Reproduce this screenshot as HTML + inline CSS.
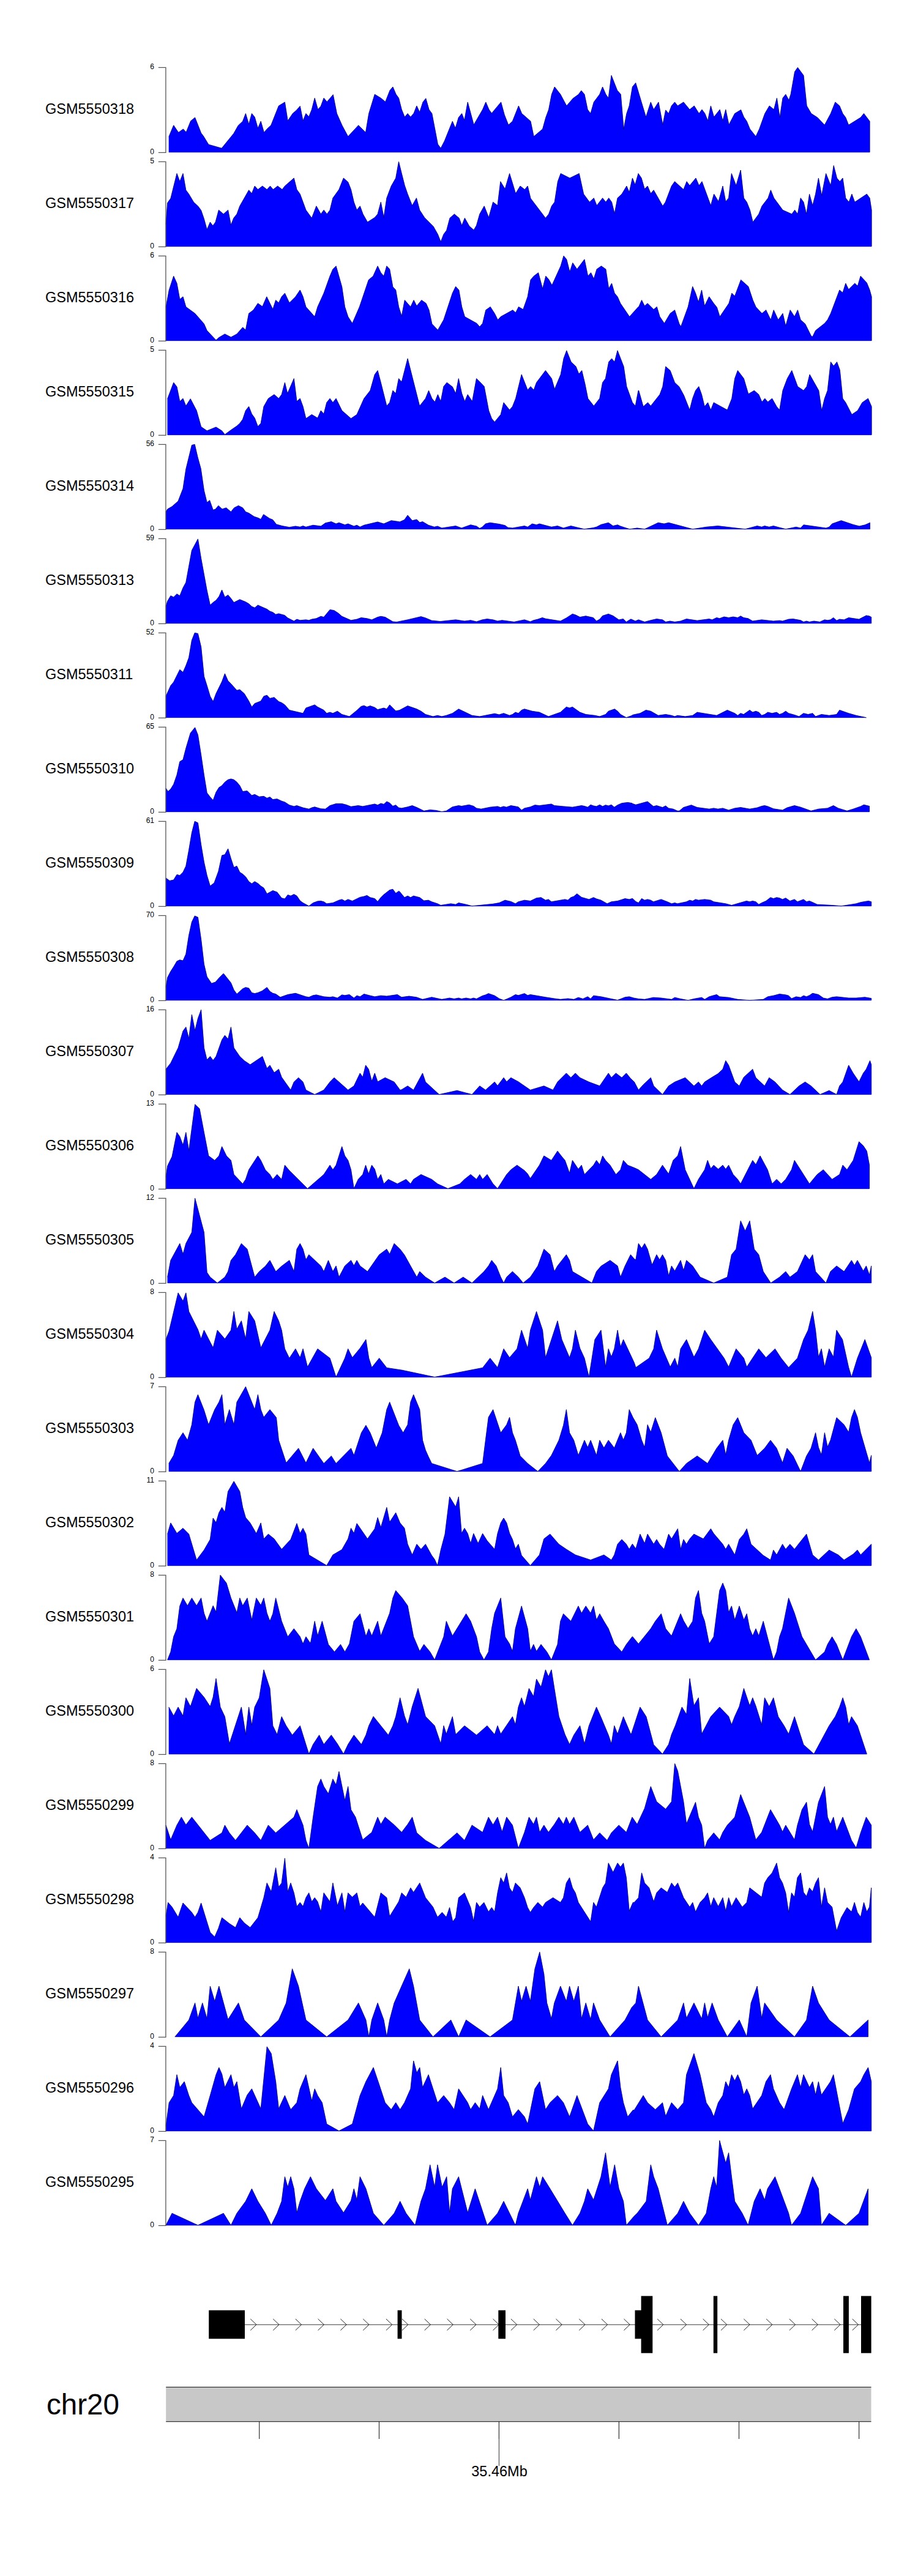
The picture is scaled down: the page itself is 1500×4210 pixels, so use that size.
<!DOCTYPE html><html><head><meta charset="utf-8"><title>tracks</title><style>html,body{margin:0;padding:0;background:#fff}svg{display:block}text{font-family:"Liberation Sans",Arial,Helvetica,sans-serif;fill:#000}</style></head><body>
<svg width="1500" height="4210" viewBox="0 0 1500 4210">
<rect width="1500" height="4210" fill="#fff"/>
<path d="M275.9,248.9 L275.9,223.5 L283.7,204.8 L291.6,216.5 L299.4,210.9 L304.2,216.1 L311.6,197.8 L318.6,192.1 L328.6,217.4 L332.5,222.6 L340.8,236.2 L362.2,242.3 L381.8,218.3 L389.2,205.2 L396.6,198.2 L401.4,185.6 L406.6,203.0 L411.4,185.6 L416.2,191.3 L421.4,209.6 L426.2,198.2 L431.4,216.5 L437.1,210.0 L442.8,204.8 L455.4,173.0 L465.4,166.9 L470.2,197.4 L478.5,185.2 L484.2,180.4 L490.3,173.4 L495.1,197.4 L499.9,185.6 L504.7,190.8 L509.4,179.1 L514.2,160.3 L519.5,179.1 L524.3,173.4 L529.1,160.3 L534.3,166.4 L544.3,154.7 L550.4,185.6 L559.1,205.2 L568.7,223.1 L585.7,204.8 L597.5,216.5 L602.7,185.6 L612.3,154.2 L622.3,160.3 L629.7,166.4 L637.1,147.7 L641.9,142.0 L647.1,154.2 L651.5,160.3 L656.3,179.1 L661.3,191.3 L666.1,185.6 L670.9,191.3 L676.1,185.2 L680.9,173.0 L685.7,183.4 L691.0,166.9 L695.8,160.8 L701.0,179.1 L705.8,185.6 L715.4,235.7 L720.2,242.3 L726.3,230.5 L739.3,198.2 L744.1,209.6 L749.3,192.1 L754.6,185.6 L758.9,196.5 L764.2,166.9 L774.2,203.9 L788.6,179.1 L793.8,166.9 L799.0,179.1 L803.4,185.2 L818.6,166.9 L824.3,187.8 L830.8,204.3 L837.4,198.2 L847.4,173.0 L852.6,185.6 L857.8,190.0 L867.0,198.2 L872.2,223.1 L886.6,210.9 L891.8,192.1 L896.6,179.1 L901.4,154.2 L906.2,142.0 L915.8,154.2 L925.8,173.0 L936.3,160.8 L945.4,154.2 L949.8,148.1 L955.0,154.2 L960.2,179.1 L965.0,185.6 L970.3,166.9 L979.8,154.2 L984.6,142.0 L989.9,154.2 L994.2,160.3 L999.0,123.3 L1008.6,147.7 L1014.3,154.2 L1019.1,210.9 L1023.9,185.6 L1028.2,173.0 L1033.4,142.0 L1038.7,135.5 L1044.3,154.2 L1048.1,166.9 L1055.5,191.3 L1063.3,166.9 L1068.1,179.1 L1076.0,166.9 L1082.9,203.9 L1087.7,179.9 L1092.5,185.6 L1097.3,173.0 L1102.5,166.9 L1107.3,173.0 L1116.9,166.9 L1126.9,179.1 L1134.3,173.0 L1142.2,185.6 L1147.0,179.1 L1151.8,185.6 L1156.6,197.4 L1161.4,173.0 L1166.6,191.3 L1176.2,179.1 L1181.0,197.4 L1185.8,179.1 L1191.0,203.9 L1200.6,185.6 L1210.6,179.5 L1215.4,191.3 L1220.2,198.2 L1225.4,210.9 L1235.0,223.1 L1240.7,210.9 L1249.8,185.6 L1257.2,173.0 L1264.6,179.1 L1269.4,160.3 L1274.2,192.1 L1279.0,160.3 L1283.8,154.2 L1289.0,163.8 L1292.1,154.2 L1298.6,117.2 L1303.4,110.3 L1313.0,123.3 L1318.2,173.0 L1325.6,185.6 L1335.7,192.1 L1347.4,204.3 L1357.4,185.6 L1364.8,166.9 L1371.8,173.0 L1377.0,185.6 L1381.8,192.1 L1386.6,204.3 L1406.2,192.1 L1411.5,185.6 L1421.1,198.2 L1421.1,248.8 L1421.1,248.9 Z" fill="#0000ff" stroke="#0000ff" stroke-width="0.4" stroke-linejoin="miter"/>
<path d="M275.9,223.5 L283.7,204.8 L291.6,216.5 L299.4,210.9 L304.2,216.1 L311.6,197.8 L318.6,192.1 L328.6,217.4 L332.5,222.6 L340.8,236.2 L362.2,242.3 L381.8,218.3 L389.2,205.2 L396.6,198.2 L401.4,185.6 L406.6,203.0 L411.4,185.6 L416.2,191.3 L421.4,209.6 L426.2,198.2 L431.4,216.5 L437.1,210.0 L442.8,204.8 L455.4,173.0 L465.4,166.9 L470.2,197.4 L478.5,185.2 L484.2,180.4 L490.3,173.4 L495.1,197.4 L499.9,185.6 L504.7,190.8 L509.4,179.1 L514.2,160.3 L519.5,179.1 L524.3,173.4 L529.1,160.3 L534.3,166.4 L544.3,154.7 L550.4,185.6 L559.1,205.2 L568.7,223.1 L585.7,204.8 L597.5,216.5 L602.7,185.6 L612.3,154.2 L622.3,160.3 L629.7,166.4 L637.1,147.7 L641.9,142.0 L647.1,154.2 L651.5,160.3 L656.3,179.1 L661.3,191.3 L666.1,185.6 L670.9,191.3 L676.1,185.2 L680.9,173.0 L685.7,183.4 L691.0,166.9 L695.8,160.8 L701.0,179.1 L705.8,185.6 L715.4,235.7 L720.2,242.3 L726.3,230.5 L739.3,198.2 L744.1,209.6 L749.3,192.1 L754.6,185.6 L758.9,196.5 L764.2,166.9 L774.2,203.9 L788.6,179.1 L793.8,166.9 L799.0,179.1 L803.4,185.2 L818.6,166.9 L824.3,187.8 L830.8,204.3 L837.4,198.2 L847.4,173.0 L852.6,185.6 L857.8,190.0 L867.0,198.2 L872.2,223.1 L886.6,210.9 L891.8,192.1 L896.6,179.1 L901.4,154.2 L906.2,142.0 L915.8,154.2 L925.8,173.0 L936.3,160.8 L945.4,154.2 L949.8,148.1 L955.0,154.2 L960.2,179.1 L965.0,185.6 L970.3,166.9 L979.8,154.2 L984.6,142.0 L989.9,154.2 L994.2,160.3 L999.0,123.3 L1008.6,147.7 L1014.3,154.2 L1019.1,210.9 L1023.9,185.6 L1028.2,173.0 L1033.4,142.0 L1038.7,135.5 L1044.3,154.2 L1048.1,166.9 L1055.5,191.3 L1063.3,166.9 L1068.1,179.1 L1076.0,166.9 L1082.9,203.9 L1087.7,179.9 L1092.5,185.6 L1097.3,173.0 L1102.5,166.9 L1107.3,173.0 L1116.9,166.9 L1126.9,179.1 L1134.3,173.0 L1142.2,185.6 L1147.0,179.1 L1151.8,185.6 L1156.6,197.4 L1161.4,173.0 L1166.6,191.3 L1176.2,179.1 L1181.0,197.4 L1185.8,179.1 L1191.0,203.9 L1200.6,185.6 L1210.6,179.5 L1215.4,191.3 L1220.2,198.2 L1225.4,210.9 L1235.0,223.1 L1240.7,210.9 L1249.8,185.6 L1257.2,173.0 L1264.6,179.1 L1269.4,160.3 L1274.2,192.1 L1279.0,160.3 L1283.8,154.2 L1289.0,163.8 L1292.1,154.2 L1298.6,117.2 L1303.4,110.3 L1313.0,123.3 L1318.2,173.0 L1325.6,185.6 L1335.7,192.1 L1347.4,204.3 L1357.4,185.6 L1364.8,166.9 L1371.8,173.0 L1377.0,185.6 L1381.8,192.1 L1386.6,204.3 L1406.2,192.1 L1411.5,185.6 L1421.1,198.2 L1421.1,248.8" fill="none" stroke="#000058" stroke-width="0.7" stroke-linejoin="miter"/>
<path d="M258.8,110.3 H270.9 V249.4 H258.8" fill="none" stroke="#555" stroke-width="1.3"/>
<text x="252" y="113.0" font-size="12" text-anchor="end">6</text>
<text x="252" y="252.2" font-size="12" text-anchor="end">0</text>
<text x="74" y="186.0" font-size="23.5">GSM5550318</text>
<path d="M271.1,402.9 L271.1,366.4 L273.7,331.6 L278.9,324.2 L289.0,283.6 L293.8,296.7 L299.0,283.6 L303.8,310.7 L308.6,317.2 L316.4,330.3 L323.8,337.2 L328.6,343.8 L333.4,357.7 L338.2,375.2 L343.4,363.0 L347.8,369.1 L352.1,363.0 L357.4,343.3 L365.2,349.9 L372.6,343.3 L377.4,367.7 L381.8,356.4 L387.0,349.9 L391.8,336.8 L406.6,310.7 L411.4,316.3 L416.2,304.1 L421.4,309.8 L428.8,304.1 L436.2,309.8 L441.5,304.1 L446.3,309.8 L453.7,304.1 L461.1,309.8 L465.4,304.1 L480.3,291.1 L485.0,309.8 L490.3,317.2 L499.9,343.3 L509.4,356.4 L516.9,336.8 L524.3,349.9 L529.1,343.3 L534.3,349.9 L539.1,343.3 L543.9,323.7 L553.9,309.8 L561.3,291.1 L568.7,297.6 L573.5,309.8 L578.3,330.3 L583.1,343.3 L588.3,336.8 L593.1,349.9 L600.5,363.0 L612.3,355.5 L617.1,349.9 L622.3,330.3 L627.1,355.5 L631.9,323.7 L639.3,304.1 L646.7,291.1 L651.5,264.3 L656.3,283.6 L661.3,303.3 L666.1,317.2 L673.5,335.9 L680.5,323.7 L685.7,343.3 L693.6,355.5 L708.0,369.9 L715.4,383.0 L720.2,395.2 L724.9,383.0 L729.7,376.5 L735.0,356.4 L742.4,349.9 L750.2,356.4 L754.6,368.6 L759.4,356.4 L766.8,369.5 L774.2,376.0 L778.5,368.6 L783.8,349.9 L791.2,336.8 L798.6,355.5 L805.6,330.3 L813.0,335.9 L817.8,296.7 L825.2,308.9 L832.6,283.6 L842.6,316.3 L850.0,304.1 L857.4,309.8 L862.2,304.1 L867.0,324.2 L891.4,356.4 L896.6,349.9 L901.4,336.8 L906.2,330.3 L911.4,296.7 L916.2,283.6 L931.0,291.1 L946.3,283.6 L953.7,317.2 L963.3,330.3 L970.3,323.7 L975.1,335.9 L984.6,323.7 L989.9,330.3 L994.7,323.7 L999.5,330.3 L1004.2,349.0 L1009.0,323.7 L1016.0,317.2 L1023.9,304.1 L1028.2,314.2 L1033.4,291.1 L1037.8,301.9 L1043.0,283.6 L1048.1,291.1 L1053.3,308.9 L1058.1,304.1 L1063.3,316.3 L1068.1,310.7 L1082.9,336.8 L1087.3,330.3 L1097.3,304.1 L1102.5,296.7 L1116.9,309.8 L1122.1,296.7 L1126.9,303.3 L1137.0,291.1 L1142.2,303.3 L1147.0,296.7 L1161.4,335.9 L1166.6,317.2 L1174.0,329.4 L1181.0,304.1 L1185.8,329.4 L1190.6,323.7 L1195.3,283.6 L1202.8,303.3 L1210.2,278.0 L1215.4,323.7 L1220.2,330.3 L1225.4,343.3 L1230.2,363.0 L1239.8,349.9 L1245.0,336.8 L1255.0,323.7 L1259.4,310.7 L1264.6,323.7 L1279.0,343.3 L1293.8,349.9 L1298.6,343.3 L1303.4,349.9 L1308.2,323.7 L1313.0,330.3 L1317.8,349.9 L1322.6,317.2 L1327.8,335.9 L1332.6,317.2 L1337.4,291.1 L1342.6,319.4 L1349.6,283.6 L1357.4,303.3 L1362.2,270.6 L1367.5,291.1 L1372.3,296.7 L1377.0,291.1 L1381.8,323.7 L1387.1,330.3 L1391.9,317.2 L1396.7,330.3 L1416.3,317.2 L1421.1,323.7 L1424.1,343.3 L1424.1,402.6 L1424.1,402.9 Z" fill="#0000ff" stroke="#0000ff" stroke-width="0.4" stroke-linejoin="miter"/>
<path d="M271.1,366.4 L273.7,331.6 L278.9,324.2 L289.0,283.6 L293.8,296.7 L299.0,283.6 L303.8,310.7 L308.6,317.2 L316.4,330.3 L323.8,337.2 L328.6,343.8 L333.4,357.7 L338.2,375.2 L343.4,363.0 L347.8,369.1 L352.1,363.0 L357.4,343.3 L365.2,349.9 L372.6,343.3 L377.4,367.7 L381.8,356.4 L387.0,349.9 L391.8,336.8 L406.6,310.7 L411.4,316.3 L416.2,304.1 L421.4,309.8 L428.8,304.1 L436.2,309.8 L441.5,304.1 L446.3,309.8 L453.7,304.1 L461.1,309.8 L465.4,304.1 L480.3,291.1 L485.0,309.8 L490.3,317.2 L499.9,343.3 L509.4,356.4 L516.9,336.8 L524.3,349.9 L529.1,343.3 L534.3,349.9 L539.1,343.3 L543.9,323.7 L553.9,309.8 L561.3,291.1 L568.7,297.6 L573.5,309.8 L578.3,330.3 L583.1,343.3 L588.3,336.8 L593.1,349.9 L600.5,363.0 L612.3,355.5 L617.1,349.9 L622.3,330.3 L627.1,355.5 L631.9,323.7 L639.3,304.1 L646.7,291.1 L651.5,264.3 L656.3,283.6 L661.3,303.3 L666.1,317.2 L673.5,335.9 L680.5,323.7 L685.7,343.3 L693.6,355.5 L708.0,369.9 L715.4,383.0 L720.2,395.2 L724.9,383.0 L729.7,376.5 L735.0,356.4 L742.4,349.9 L750.2,356.4 L754.6,368.6 L759.4,356.4 L766.8,369.5 L774.2,376.0 L778.5,368.6 L783.8,349.9 L791.2,336.8 L798.6,355.5 L805.6,330.3 L813.0,335.9 L817.8,296.7 L825.2,308.9 L832.6,283.6 L842.6,316.3 L850.0,304.1 L857.4,309.8 L862.2,304.1 L867.0,324.2 L891.4,356.4 L896.6,349.9 L901.4,336.8 L906.2,330.3 L911.4,296.7 L916.2,283.6 L931.0,291.1 L946.3,283.6 L953.7,317.2 L963.3,330.3 L970.3,323.7 L975.1,335.9 L984.6,323.7 L989.9,330.3 L994.7,323.7 L999.5,330.3 L1004.2,349.0 L1009.0,323.7 L1016.0,317.2 L1023.9,304.1 L1028.2,314.2 L1033.4,291.1 L1037.8,301.9 L1043.0,283.6 L1048.1,291.1 L1053.3,308.9 L1058.1,304.1 L1063.3,316.3 L1068.1,310.7 L1082.9,336.8 L1087.3,330.3 L1097.3,304.1 L1102.5,296.7 L1116.9,309.8 L1122.1,296.7 L1126.9,303.3 L1137.0,291.1 L1142.2,303.3 L1147.0,296.7 L1161.4,335.9 L1166.6,317.2 L1174.0,329.4 L1181.0,304.1 L1185.8,329.4 L1190.6,323.7 L1195.3,283.6 L1202.8,303.3 L1210.2,278.0 L1215.4,323.7 L1220.2,330.3 L1225.4,343.3 L1230.2,363.0 L1239.8,349.9 L1245.0,336.8 L1255.0,323.7 L1259.4,310.7 L1264.6,323.7 L1279.0,343.3 L1293.8,349.9 L1298.6,343.3 L1303.4,349.9 L1308.2,323.7 L1313.0,330.3 L1317.8,349.9 L1322.6,317.2 L1327.8,335.9 L1332.6,317.2 L1337.4,291.1 L1342.6,319.4 L1349.6,283.6 L1357.4,303.3 L1362.2,270.6 L1367.5,291.1 L1372.3,296.7 L1377.0,291.1 L1381.8,323.7 L1387.1,330.3 L1391.9,317.2 L1396.7,330.3 L1416.3,317.2 L1421.1,323.7 L1424.1,343.3 L1424.1,402.6" fill="none" stroke="#000058" stroke-width="0.7" stroke-linejoin="miter"/>
<path d="M258.8,264.3 H270.9 V403.4 H258.8" fill="none" stroke="#555" stroke-width="1.3"/>
<text x="252" y="267.0" font-size="12" text-anchor="end">5</text>
<text x="252" y="406.2" font-size="12" text-anchor="end">0</text>
<text x="74" y="340.0" font-size="23.5">GSM5550317</text>
<path d="M271.1,556.9 L271.1,502.3 L276.3,474.0 L283.7,451.3 L289.0,463.1 L293.8,489.3 L299.0,484.9 L303.8,501.5 L318.6,512.3 L333.4,529.3 L338.2,540.2 L353.0,555.9 L357.8,551.6 L367.4,545.9 L377.4,551.1 L387.0,545.9 L396.6,535.0 L401.4,539.4 L406.6,512.3 L414.0,506.7 L421.4,495.8 L428.8,501.0 L435.8,484.9 L445.8,505.4 L450.6,490.6 L455.4,494.9 L460.2,484.9 L465.4,479.2 L472.8,494.9 L482.9,484.9 L490.3,474.0 L495.1,484.9 L499.9,501.5 L514.2,517.6 L519.0,501.5 L529.1,479.2 L539.1,451.3 L543.9,440.0 L549.1,434.8 L558.7,468.8 L563.5,501.5 L568.7,517.6 L575.7,528.5 L587.4,501.5 L602.3,457.4 L609.7,451.3 L617.1,434.8 L622.3,445.7 L627.1,451.3 L631.9,434.8 L636.7,440.0 L641.9,468.8 L646.7,474.0 L651.5,501.5 L656.3,516.7 L661.3,490.6 L670.9,501.5 L676.1,490.6 L680.9,500.1 L688.8,490.6 L696.2,495.8 L701.0,506.7 L705.8,529.3 L715.4,539.4 L724.9,522.8 L739.3,479.2 L744.6,468.3 L749.8,474.0 L754.6,501.5 L759.4,517.6 L779.0,528.5 L783.8,534.1 L788.6,528.5 L793.8,506.7 L801.2,501.5 L808.2,512.3 L813.4,522.8 L818.2,517.6 L837.8,506.7 L842.6,511.0 L847.4,501.5 L854.8,505.8 L862.2,484.9 L867.0,457.4 L872.2,451.3 L879.6,445.7 L886.6,471.8 L891.8,451.3 L896.6,456.6 L901.9,466.2 L916.2,434.8 L921.0,418.3 L925.8,423.9 L931.0,444.4 L935.8,429.6 L942.8,440.0 L955.0,423.9 L960.7,451.3 L965.5,445.7 L970.3,455.7 L975.1,440.0 L982.5,434.8 L989.9,440.0 L994.7,471.8 L999.5,463.1 L1004.2,479.2 L1009.0,484.9 L1013.8,495.8 L1028.6,517.6 L1043.0,501.5 L1043.7,501.5 L1048.5,490.6 L1053.3,500.1 L1058.1,495.8 L1068.1,505.8 L1073.3,501.5 L1078.1,517.6 L1085.5,528.5 L1095.1,512.3 L1102.5,506.7 L1109.9,529.3 L1112.6,533.7 L1124.3,501.5 L1131.7,468.3 L1136.5,479.2 L1141.3,493.6 L1146.5,474.0 L1151.3,500.1 L1158.7,484.9 L1166.2,495.8 L1171.4,502.3 L1176.2,517.6 L1191.0,495.8 L1195.8,479.2 L1200.6,484.0 L1210.6,457.4 L1222.8,468.3 L1230.2,490.6 L1235.0,501.5 L1245.0,512.3 L1251.6,506.7 L1259.4,522.8 L1264.2,506.7 L1271.6,522.8 L1279.0,512.3 L1283.8,532.8 L1291.2,506.7 L1298.2,517.6 L1303.4,506.7 L1308.2,522.8 L1315.6,529.3 L1325.6,549.4 L1327.8,550.3 L1332.6,540.2 L1347.4,528.5 L1352.2,522.8 L1357.4,512.3 L1371.8,474.0 L1377.0,478.4 L1381.8,463.1 L1386.6,473.1 L1396.7,463.1 L1401.4,467.5 L1406.2,451.3 L1416.3,462.2 L1421.1,474.0 L1424.1,484.9 L1424.1,556.8 L1424.1,556.9 Z" fill="#0000ff" stroke="#0000ff" stroke-width="0.4" stroke-linejoin="miter"/>
<path d="M271.1,502.3 L276.3,474.0 L283.7,451.3 L289.0,463.1 L293.8,489.3 L299.0,484.9 L303.8,501.5 L318.6,512.3 L333.4,529.3 L338.2,540.2 L353.0,555.9 L357.8,551.6 L367.4,545.9 L377.4,551.1 L387.0,545.9 L396.6,535.0 L401.4,539.4 L406.6,512.3 L414.0,506.7 L421.4,495.8 L428.8,501.0 L435.8,484.9 L445.8,505.4 L450.6,490.6 L455.4,494.9 L460.2,484.9 L465.4,479.2 L472.8,494.9 L482.9,484.9 L490.3,474.0 L495.1,484.9 L499.9,501.5 L514.2,517.6 L519.0,501.5 L529.1,479.2 L539.1,451.3 L543.9,440.0 L549.1,434.8 L558.7,468.8 L563.5,501.5 L568.7,517.6 L575.7,528.5 L587.4,501.5 L602.3,457.4 L609.7,451.3 L617.1,434.8 L622.3,445.7 L627.1,451.3 L631.9,434.8 L636.7,440.0 L641.9,468.8 L646.7,474.0 L651.5,501.5 L656.3,516.7 L661.3,490.6 L670.9,501.5 L676.1,490.6 L680.9,500.1 L688.8,490.6 L696.2,495.8 L701.0,506.7 L705.8,529.3 L715.4,539.4 L724.9,522.8 L739.3,479.2 L744.6,468.3 L749.8,474.0 L754.6,501.5 L759.4,517.6 L779.0,528.5 L783.8,534.1 L788.6,528.5 L793.8,506.7 L801.2,501.5 L808.2,512.3 L813.4,522.8 L818.2,517.6 L837.8,506.7 L842.6,511.0 L847.4,501.5 L854.8,505.8 L862.2,484.9 L867.0,457.4 L872.2,451.3 L879.6,445.7 L886.6,471.8 L891.8,451.3 L896.6,456.6 L901.9,466.2 L916.2,434.8 L921.0,418.3 L925.8,423.9 L931.0,444.4 L935.8,429.6 L942.8,440.0 L955.0,423.9 L960.7,451.3 L965.5,445.7 L970.3,455.7 L975.1,440.0 L982.5,434.8 L989.9,440.0 L994.7,471.8 L999.5,463.1 L1004.2,479.2 L1009.0,484.9 L1013.8,495.8 L1028.6,517.6 L1043.0,501.5 L1043.7,501.5 L1048.5,490.6 L1053.3,500.1 L1058.1,495.8 L1068.1,505.8 L1073.3,501.5 L1078.1,517.6 L1085.5,528.5 L1095.1,512.3 L1102.5,506.7 L1109.9,529.3 L1112.6,533.7 L1124.3,501.5 L1131.7,468.3 L1136.5,479.2 L1141.3,493.6 L1146.5,474.0 L1151.3,500.1 L1158.7,484.9 L1166.2,495.8 L1171.4,502.3 L1176.2,517.6 L1191.0,495.8 L1195.8,479.2 L1200.6,484.0 L1210.6,457.4 L1222.8,468.3 L1230.2,490.6 L1235.0,501.5 L1245.0,512.3 L1251.6,506.7 L1259.4,522.8 L1264.2,506.7 L1271.6,522.8 L1279.0,512.3 L1283.8,532.8 L1291.2,506.7 L1298.2,517.6 L1303.4,506.7 L1308.2,522.8 L1315.6,529.3 L1325.6,549.4 L1327.8,550.3 L1332.6,540.2 L1347.4,528.5 L1352.2,522.8 L1357.4,512.3 L1371.8,474.0 L1377.0,478.4 L1381.8,463.1 L1386.6,473.1 L1396.7,463.1 L1401.4,467.5 L1406.2,451.3 L1416.3,462.2 L1421.1,474.0 L1424.1,484.9 L1424.1,556.8" fill="none" stroke="#000058" stroke-width="0.7" stroke-linejoin="miter"/>
<path d="M258.8,418.3 H270.9 V557.4 H258.8" fill="none" stroke="#555" stroke-width="1.3"/>
<text x="252" y="421.0" font-size="12" text-anchor="end">6</text>
<text x="252" y="560.2" font-size="12" text-anchor="end">0</text>
<text x="74" y="494.0" font-size="23.5">GSM5550316</text>
<path d="M273.7,710.9 L273.7,651.8 L283.7,625.2 L289.0,632.2 L293.8,656.1 L299.0,651.3 L303.8,663.5 L311.2,651.8 L321.2,671.0 L328.6,697.5 L338.2,704.1 L353.0,698.0 L362.6,704.1 L367.4,710.2 L377.4,702.8 L387.0,696.2 L391.8,691.9 L396.6,685.3 L401.4,671.0 L406.6,664.4 L411.4,676.6 L416.2,683.2 L421.4,697.1 L426.2,691.9 L431.0,664.4 L438.4,651.3 L448.0,644.8 L455.4,651.3 L460.2,644.8 L465.4,625.2 L469.8,643.1 L480.3,618.7 L485.0,656.1 L490.3,651.3 L495.1,664.4 L499.9,684.0 L509.4,677.5 L519.0,683.2 L524.3,671.0 L529.1,676.6 L533.8,657.9 L539.1,651.3 L543.9,657.9 L549.1,651.3 L558.7,671.0 L573.5,684.0 L583.1,677.5 L594.8,651.3 L604.9,638.3 L612.3,612.1 L617.1,605.6 L622.3,625.2 L631.9,663.5 L636.7,657.9 L641.9,638.3 L646.7,643.1 L651.5,618.7 L656.3,624.3 L666.1,586.0 L685.7,663.5 L695.3,651.3 L700.5,638.3 L705.8,651.3 L710.6,657.0 L715.4,644.8 L720.2,656.1 L724.9,631.7 L730.2,625.2 L739.3,632.2 L744.6,643.1 L749.3,618.7 L754.6,643.1 L759.4,656.1 L764.2,644.8 L771.6,656.1 L778.5,618.7 L786.4,626.5 L791.2,631.7 L798.6,671.0 L803.4,684.0 L808.2,689.7 L818.2,677.5 L823.0,657.9 L832.6,670.1 L837.4,664.4 L842.6,651.3 L852.2,612.1 L862.2,637.4 L867.0,631.7 L872.2,637.4 L876.6,625.2 L891.4,605.6 L901.4,618.7 L906.2,636.1 L916.2,612.1 L921.0,586.0 L925.8,572.9 L933.2,591.6 L941.1,599.1 L945.9,611.3 L950.7,605.6 L955.9,627.4 L960.7,651.3 L970.3,663.5 L979.8,651.3 L984.6,625.2 L989.4,618.7 L994.7,591.6 L999.5,586.0 L1004.2,591.6 L1009.0,572.9 L1019.1,599.1 L1023.9,631.7 L1033.4,657.9 L1038.2,663.5 L1043.0,638.3 L1043.7,638.3 L1051.1,664.4 L1058.5,657.9 L1063.3,663.5 L1078.1,644.8 L1082.9,631.7 L1087.7,599.1 L1095.1,605.6 L1102.5,625.2 L1109.9,632.2 L1117.4,646.1 L1126.9,670.1 L1131.7,651.3 L1136.5,638.3 L1141.8,631.7 L1146.5,644.8 L1151.3,664.4 L1156.6,657.9 L1161.4,670.1 L1166.2,657.9 L1188.4,670.1 L1195.8,651.3 L1200.6,618.7 L1205.4,605.6 L1215.4,618.7 L1222.8,643.9 L1232.4,638.3 L1239.8,644.8 L1245.0,657.0 L1249.8,651.3 L1254.6,657.0 L1261.6,651.3 L1269.0,664.4 L1273.8,670.1 L1279.0,638.3 L1286.4,618.7 L1293.8,605.6 L1303.4,631.7 L1313.0,638.3 L1318.2,631.7 L1323.0,612.1 L1337.8,638.3 L1342.6,671.0 L1347.4,651.3 L1352.2,638.3 L1357.4,591.6 L1362.2,598.2 L1367.5,591.6 L1372.3,604.7 L1377.0,651.3 L1381.8,657.9 L1391.9,677.5 L1401.4,671.0 L1408.9,657.9 L1418.4,651.3 L1424.1,664.4 L1424.1,710.6 L1424.1,710.9 Z" fill="#0000ff" stroke="#0000ff" stroke-width="0.4" stroke-linejoin="miter"/>
<path d="M273.7,651.8 L283.7,625.2 L289.0,632.2 L293.8,656.1 L299.0,651.3 L303.8,663.5 L311.2,651.8 L321.2,671.0 L328.6,697.5 L338.2,704.1 L353.0,698.0 L362.6,704.1 L367.4,710.2 L377.4,702.8 L387.0,696.2 L391.8,691.9 L396.6,685.3 L401.4,671.0 L406.6,664.4 L411.4,676.6 L416.2,683.2 L421.4,697.1 L426.2,691.9 L431.0,664.4 L438.4,651.3 L448.0,644.8 L455.4,651.3 L460.2,644.8 L465.4,625.2 L469.8,643.1 L480.3,618.7 L485.0,656.1 L490.3,651.3 L495.1,664.4 L499.9,684.0 L509.4,677.5 L519.0,683.2 L524.3,671.0 L529.1,676.6 L533.8,657.9 L539.1,651.3 L543.9,657.9 L549.1,651.3 L558.7,671.0 L573.5,684.0 L583.1,677.5 L594.8,651.3 L604.9,638.3 L612.3,612.1 L617.1,605.6 L622.3,625.2 L631.9,663.5 L636.7,657.9 L641.9,638.3 L646.7,643.1 L651.5,618.7 L656.3,624.3 L666.1,586.0 L685.7,663.5 L695.3,651.3 L700.5,638.3 L705.8,651.3 L710.6,657.0 L715.4,644.8 L720.2,656.1 L724.9,631.7 L730.2,625.2 L739.3,632.2 L744.6,643.1 L749.3,618.7 L754.6,643.1 L759.4,656.1 L764.2,644.8 L771.6,656.1 L778.5,618.7 L786.4,626.5 L791.2,631.7 L798.6,671.0 L803.4,684.0 L808.2,689.7 L818.2,677.5 L823.0,657.9 L832.6,670.1 L837.4,664.4 L842.6,651.3 L852.2,612.1 L862.2,637.4 L867.0,631.7 L872.2,637.4 L876.6,625.2 L891.4,605.6 L901.4,618.7 L906.2,636.1 L916.2,612.1 L921.0,586.0 L925.8,572.9 L933.2,591.6 L941.1,599.1 L945.9,611.3 L950.7,605.6 L955.9,627.4 L960.7,651.3 L970.3,663.5 L979.8,651.3 L984.6,625.2 L989.4,618.7 L994.7,591.6 L999.5,586.0 L1004.2,591.6 L1009.0,572.9 L1019.1,599.1 L1023.9,631.7 L1033.4,657.9 L1038.2,663.5 L1043.0,638.3 L1043.7,638.3 L1051.1,664.4 L1058.5,657.9 L1063.3,663.5 L1078.1,644.8 L1082.9,631.7 L1087.7,599.1 L1095.1,605.6 L1102.5,625.2 L1109.9,632.2 L1117.4,646.1 L1126.9,670.1 L1131.7,651.3 L1136.5,638.3 L1141.8,631.7 L1146.5,644.8 L1151.3,664.4 L1156.6,657.9 L1161.4,670.1 L1166.2,657.9 L1188.4,670.1 L1195.8,651.3 L1200.6,618.7 L1205.4,605.6 L1215.4,618.7 L1222.8,643.9 L1232.4,638.3 L1239.8,644.8 L1245.0,657.0 L1249.8,651.3 L1254.6,657.0 L1261.6,651.3 L1269.0,664.4 L1273.8,670.1 L1279.0,638.3 L1286.4,618.7 L1293.8,605.6 L1303.4,631.7 L1313.0,638.3 L1318.2,631.7 L1323.0,612.1 L1337.8,638.3 L1342.6,671.0 L1347.4,651.3 L1352.2,638.3 L1357.4,591.6 L1362.2,598.2 L1367.5,591.6 L1372.3,604.7 L1377.0,651.3 L1381.8,657.9 L1391.9,677.5 L1401.4,671.0 L1408.9,657.9 L1418.4,651.3 L1424.1,664.4 L1424.1,710.6" fill="none" stroke="#000058" stroke-width="0.7" stroke-linejoin="miter"/>
<path d="M258.8,572.3 H270.9 V711.4 H258.8" fill="none" stroke="#555" stroke-width="1.3"/>
<text x="252" y="575.0" font-size="12" text-anchor="end">5</text>
<text x="252" y="714.2" font-size="12" text-anchor="end">0</text>
<text x="74" y="648.0" font-size="23.5">GSM5550315</text>
<path d="M271.1,864.9 L271.1,836.5 L273.7,832.1 L281.1,827.8 L291.1,819.0 L299.0,798.6 L303.8,766.8 L313.4,727.5 L318.2,726.3 L323.0,747.1 L328.2,765.9 L333.4,801.6 L338.2,821.2 L342.6,817.7 L348.2,833.4 L352.1,832.1 L356.9,826.4 L363.0,832.1 L369.6,829.9 L377.4,836.5 L382.6,829.9 L389.6,826.4 L396.6,829.9 L401.4,836.5 L406.6,838.6 L415.3,844.3 L421.9,846.5 L426.2,848.7 L430.6,840.8 L440.6,847.4 L445.8,849.5 L451.5,856.9 L461.1,859.6 L472.8,861.7 L482.9,860.0 L490.3,861.3 L495.1,859.6 L499.9,861.3 L511.6,858.3 L524.3,860.0 L531.7,854.8 L541.3,852.6 L549.1,856.1 L553.9,854.3 L563.5,857.8 L568.7,856.1 L578.3,860.0 L583.1,858.3 L588.3,861.3 L594.8,858.3 L617.1,853.0 L627.1,856.1 L639.3,850.8 L651.5,852.6 L653.1,853.0 L660.9,849.5 L666.1,842.1 L673.6,850.8 L681.0,849.1 L685.8,853.9 L690.5,852.6 L700.1,858.3 L709.7,861.3 L714.9,860.0 L721.9,863.0 L744.6,859.6 L754.2,863.0 L769.0,857.8 L778.6,860.0 L783.8,863.5 L788.1,861.3 L793.4,856.1 L800.8,854.3 L815.6,856.5 L825.2,858.7 L830.0,862.2 L837.4,863.0 L857.0,859.6 L862.2,861.3 L869.6,856.1 L876.6,857.8 L881.4,856.1 L901.0,861.3 L911.0,859.6 L920.6,863.0 L932.8,859.6 L954.6,864.8 L969.4,862.6 L974.6,861.3 L982.0,857.4 L994.2,854.3 L1001.7,859.6 L1009.1,857.8 L1013.9,860.0 L1028.7,864.8 L1029.4,864.8 L1041.1,863.0 L1053.3,864.8 L1075.5,854.3 L1085.1,856.1 L1092.5,854.3 L1131.8,864.8 L1154.0,861.3 L1173.1,859.6 L1217.6,864.8 L1237.2,859.6 L1244.6,861.3 L1249.4,859.6 L1256.8,861.3 L1263.8,859.6 L1283.8,864.8 L1300.8,861.3 L1308.2,863.0 L1313.0,857.8 L1349.6,863.0 L1354.8,861.3 L1359.6,856.1 L1374.5,850.8 L1394.1,857.4 L1404.1,860.0 L1413.7,857.8 L1421.5,854.3 L1421.5,864.8 L1421.5,864.9 Z" fill="#0000ff" stroke="#0000ff" stroke-width="0.4" stroke-linejoin="miter"/>
<path d="M271.1,836.5 L273.7,832.1 L281.1,827.8 L291.1,819.0 L299.0,798.6 L303.8,766.8 L313.4,727.5 L318.2,726.3 L323.0,747.1 L328.2,765.9 L333.4,801.6 L338.2,821.2 L342.6,817.7 L348.2,833.4 L352.1,832.1 L356.9,826.4 L363.0,832.1 L369.6,829.9 L377.4,836.5 L382.6,829.9 L389.6,826.4 L396.6,829.9 L401.4,836.5 L406.6,838.6 L415.3,844.3 L421.9,846.5 L426.2,848.7 L430.6,840.8 L440.6,847.4 L445.8,849.5 L451.5,856.9 L461.1,859.6 L472.8,861.7 L482.9,860.0 L490.3,861.3 L495.1,859.6 L499.9,861.3 L511.6,858.3 L524.3,860.0 L531.7,854.8 L541.3,852.6 L549.1,856.1 L553.9,854.3 L563.5,857.8 L568.7,856.1 L578.3,860.0 L583.1,858.3 L588.3,861.3 L594.8,858.3 L617.1,853.0 L627.1,856.1 L639.3,850.8 L651.5,852.6 L653.1,853.0 L660.9,849.5 L666.1,842.1 L673.6,850.8 L681.0,849.1 L685.8,853.9 L690.5,852.6 L700.1,858.3 L709.7,861.3 L714.9,860.0 L721.9,863.0 L744.6,859.6 L754.2,863.0 L769.0,857.8 L778.6,860.0 L783.8,863.5 L788.1,861.3 L793.4,856.1 L800.8,854.3 L815.6,856.5 L825.2,858.7 L830.0,862.2 L837.4,863.0 L857.0,859.6 L862.2,861.3 L869.6,856.1 L876.6,857.8 L881.4,856.1 L901.0,861.3 L911.0,859.6 L920.6,863.0 L932.8,859.6 L954.6,864.8 L969.4,862.6 L974.6,861.3 L982.0,857.4 L994.2,854.3 L1001.7,859.6 L1009.1,857.8 L1013.9,860.0 L1028.7,864.8 L1029.4,864.8 L1041.1,863.0 L1053.3,864.8 L1075.5,854.3 L1085.1,856.1 L1092.5,854.3 L1131.8,864.8 L1154.0,861.3 L1173.1,859.6 L1217.6,864.8 L1237.2,859.6 L1244.6,861.3 L1249.4,859.6 L1256.8,861.3 L1263.8,859.6 L1283.8,864.8 L1300.8,861.3 L1308.2,863.0 L1313.0,857.8 L1349.6,863.0 L1354.8,861.3 L1359.6,856.1 L1374.5,850.8 L1394.1,857.4 L1404.1,860.0 L1413.7,857.8 L1421.5,854.3 L1421.5,864.8" fill="none" stroke="#000058" stroke-width="0.7" stroke-linejoin="miter"/>
<path d="M258.8,726.3 H270.9 V865.4 H258.8" fill="none" stroke="#555" stroke-width="1.3"/>
<text x="252" y="729.0" font-size="12" text-anchor="end">56</text>
<text x="252" y="868.2" font-size="12" text-anchor="end">0</text>
<text x="74" y="802.0" font-size="23.5">GSM5550314</text>
<path d="M271.1,1018.9 L271.1,991.2 L273.7,982.4 L278.9,973.7 L283.7,975.9 L289.0,970.7 L293.8,973.7 L299.0,960.7 L303.8,951.9 L313.4,899.6 L323.4,880.9 L328.6,912.7 L338.2,965.0 L343.4,989.0 L348.2,984.6 L353.0,981.1 L357.8,975.0 L362.6,964.1 L367.4,975.9 L372.6,972.4 L377.4,978.1 L382.2,984.6 L391.8,979.8 L401.4,983.7 L406.6,986.8 L411.4,991.2 L416.2,993.3 L421.4,989.0 L431.0,993.3 L436.2,995.5 L441.0,999.0 L445.8,1000.7 L450.6,1004.2 L455.4,1002.9 L465.0,1005.5 L470.2,1009.9 L480.3,1015.1 L485.0,1012.1 L490.3,1013.8 L499.9,1012.9 L504.7,1013.8 L509.4,1012.1 L516.9,1010.8 L524.3,1007.3 L529.1,1008.6 L539.1,996.4 L546.0,997.7 L552.6,1002.0 L558.7,1007.3 L573.5,1013.8 L583.1,1012.1 L590.1,1009.5 L599.6,1010.8 L607.5,1012.9 L617.1,1008.6 L622.3,1007.3 L629.3,1008.6 L641.9,1016.0 L646.7,1016.4 L648.7,1016.4 L666.1,1012.9 L687.9,1007.7 L695.3,1009.9 L705.4,1014.2 L719.7,1015.6 L744.6,1012.9 L759.0,1015.1 L769.0,1013.8 L778.6,1016.0 L788.1,1012.9 L796.0,1011.6 L805.6,1012.9 L813.0,1015.1 L820.4,1013.8 L840.0,1016.4 L857.0,1012.9 L866.6,1016.0 L871.8,1013.8 L878.8,1012.1 L886.2,1009.5 L891.4,1011.2 L915.8,1015.1 L925.4,1009.9 L935.4,1003.4 L940.7,1005.1 L947.6,1008.6 L957.2,1006.8 L969.4,1009.5 L974.6,1015.1 L979.9,1012.1 L984.7,1006.4 L994.2,1003.4 L1001.7,1006.4 L1011.2,1012.9 L1018.2,1011.6 L1023.4,1016.4 L1030.4,1012.1 L1031.5,1012.1 L1038.1,1015.1 L1043.3,1012.9 L1053.3,1016.4 L1063.3,1013.8 L1072.9,1011.6 L1082.5,1012.9 L1087.7,1016.4 L1094.7,1015.1 L1102.6,1016.4 L1112.1,1015.1 L1121.7,1011.6 L1139.2,1014.2 L1158.8,1011.6 L1163.6,1012.9 L1171.0,1009.5 L1175.8,1010.8 L1183.2,1008.1 L1190.6,1009.5 L1198.0,1008.1 L1205.4,1009.5 L1210.2,1006.8 L1215.0,1009.5 L1222.4,1010.8 L1229.8,1015.1 L1244.6,1012.9 L1263.8,1015.1 L1273.8,1014.2 L1278.6,1015.1 L1288.6,1012.1 L1296.0,1011.6 L1308.2,1013.8 L1313.0,1016.4 L1317.8,1015.1 L1322.6,1016.4 L1330.0,1015.1 L1339.6,1016.4 L1347.4,1012.9 L1352.2,1013.8 L1357.0,1012.9 L1361.8,1009.5 L1367.0,1014.2 L1371.8,1012.1 L1379.2,1012.9 L1386.7,1009.5 L1403.6,1012.1 L1415.4,1006.0 L1420.2,1006.8 L1423.7,1008.6 L1423.7,1018.6 L1423.7,1018.9 Z" fill="#0000ff" stroke="#0000ff" stroke-width="0.4" stroke-linejoin="miter"/>
<path d="M271.1,991.2 L273.7,982.4 L278.9,973.7 L283.7,975.9 L289.0,970.7 L293.8,973.7 L299.0,960.7 L303.8,951.9 L313.4,899.6 L323.4,880.9 L328.6,912.7 L338.2,965.0 L343.4,989.0 L348.2,984.6 L353.0,981.1 L357.8,975.0 L362.6,964.1 L367.4,975.9 L372.6,972.4 L377.4,978.1 L382.2,984.6 L391.8,979.8 L401.4,983.7 L406.6,986.8 L411.4,991.2 L416.2,993.3 L421.4,989.0 L431.0,993.3 L436.2,995.5 L441.0,999.0 L445.8,1000.7 L450.6,1004.2 L455.4,1002.9 L465.0,1005.5 L470.2,1009.9 L480.3,1015.1 L485.0,1012.1 L490.3,1013.8 L499.9,1012.9 L504.7,1013.8 L509.4,1012.1 L516.9,1010.8 L524.3,1007.3 L529.1,1008.6 L539.1,996.4 L546.0,997.7 L552.6,1002.0 L558.7,1007.3 L573.5,1013.8 L583.1,1012.1 L590.1,1009.5 L599.6,1010.8 L607.5,1012.9 L617.1,1008.6 L622.3,1007.3 L629.3,1008.6 L641.9,1016.0 L646.7,1016.4 L648.7,1016.4 L666.1,1012.9 L687.9,1007.7 L695.3,1009.9 L705.4,1014.2 L719.7,1015.6 L744.6,1012.9 L759.0,1015.1 L769.0,1013.8 L778.6,1016.0 L788.1,1012.9 L796.0,1011.6 L805.6,1012.9 L813.0,1015.1 L820.4,1013.8 L840.0,1016.4 L857.0,1012.9 L866.6,1016.0 L871.8,1013.8 L878.8,1012.1 L886.2,1009.5 L891.4,1011.2 L915.8,1015.1 L925.4,1009.9 L935.4,1003.4 L940.7,1005.1 L947.6,1008.6 L957.2,1006.8 L969.4,1009.5 L974.6,1015.1 L979.9,1012.1 L984.7,1006.4 L994.2,1003.4 L1001.7,1006.4 L1011.2,1012.9 L1018.2,1011.6 L1023.4,1016.4 L1030.4,1012.1 L1031.5,1012.1 L1038.1,1015.1 L1043.3,1012.9 L1053.3,1016.4 L1063.3,1013.8 L1072.9,1011.6 L1082.5,1012.9 L1087.7,1016.4 L1094.7,1015.1 L1102.6,1016.4 L1112.1,1015.1 L1121.7,1011.6 L1139.2,1014.2 L1158.8,1011.6 L1163.6,1012.9 L1171.0,1009.5 L1175.8,1010.8 L1183.2,1008.1 L1190.6,1009.5 L1198.0,1008.1 L1205.4,1009.5 L1210.2,1006.8 L1215.0,1009.5 L1222.4,1010.8 L1229.8,1015.1 L1244.6,1012.9 L1263.8,1015.1 L1273.8,1014.2 L1278.6,1015.1 L1288.6,1012.1 L1296.0,1011.6 L1308.2,1013.8 L1313.0,1016.4 L1317.8,1015.1 L1322.6,1016.4 L1330.0,1015.1 L1339.6,1016.4 L1347.4,1012.9 L1352.2,1013.8 L1357.0,1012.9 L1361.8,1009.5 L1367.0,1014.2 L1371.8,1012.1 L1379.2,1012.9 L1386.7,1009.5 L1403.6,1012.1 L1415.4,1006.0 L1420.2,1006.8 L1423.7,1008.6 L1423.7,1018.6" fill="none" stroke="#000058" stroke-width="0.7" stroke-linejoin="miter"/>
<path d="M258.8,880.3 H270.9 V1019.4 H258.8" fill="none" stroke="#555" stroke-width="1.3"/>
<text x="252" y="883.0" font-size="12" text-anchor="end">59</text>
<text x="252" y="1022.2" font-size="12" text-anchor="end">0</text>
<text x="74" y="956.0" font-size="23.5">GSM5550313</text>
<path d="M271.1,1172.9 L271.1,1137.9 L278.9,1120.5 L283.7,1114.8 L293.8,1094.4 L299.0,1098.7 L303.8,1087.8 L308.6,1074.8 L313.4,1046.4 L318.2,1034.3 L323.4,1035.5 L328.6,1057.3 L333.4,1105.3 L338.2,1120.5 L343.4,1137.9 L348.2,1146.6 L353.0,1133.6 L362.6,1114.0 L367.4,1100.9 L372.6,1112.7 L377.4,1117.5 L387.0,1128.3 L391.8,1127.0 L399.2,1133.6 L406.6,1145.8 L411.4,1155.4 L416.2,1149.7 L426.2,1145.8 L431.0,1137.9 L436.2,1136.2 L441.0,1141.4 L448.0,1139.7 L455.4,1146.6 L460.2,1148.4 L465.4,1151.9 L472.8,1160.6 L495.1,1165.8 L499.9,1157.1 L514.2,1151.9 L519.0,1155.4 L529.1,1160.6 L533.8,1165.8 L539.1,1164.1 L543.9,1165.8 L551.3,1162.3 L558.7,1167.6 L570.9,1171.0 L583.1,1161.0 L590.1,1154.5 L594.8,1153.2 L599.6,1155.4 L604.9,1153.6 L612.3,1156.2 L617.1,1159.7 L627.1,1157.1 L631.9,1158.8 L636.7,1151.9 L646.7,1161.9 L651.5,1161.0 L653.1,1160.6 L666.1,1153.6 L681.0,1158.8 L687.9,1162.3 L695.3,1167.6 L707.5,1171.0 L714.9,1169.3 L721.9,1171.0 L729.3,1169.3 L739.3,1165.8 L749.4,1158.8 L771.2,1169.3 L783.8,1171.0 L808.2,1166.3 L815.6,1168.0 L823.0,1165.8 L832.6,1169.3 L837.4,1167.6 L842.2,1164.1 L847.0,1165.8 L852.2,1160.6 L857.0,1158.8 L869.6,1162.3 L881.4,1164.1 L896.2,1171.0 L915.8,1164.1 L925.4,1155.4 L930.6,1157.1 L935.4,1155.4 L947.6,1164.1 L957.2,1167.6 L972.0,1169.3 L979.9,1171.0 L989.5,1167.6 L994.2,1162.3 L1004.3,1158.8 L1009.1,1162.3 L1013.9,1167.6 L1023.4,1172.8 L1033.0,1169.3 L1033.7,1168.4 L1045.9,1165.8 L1055.5,1160.6 L1063.3,1162.3 L1075.5,1169.3 L1087.7,1167.6 L1097.3,1169.3 L1102.6,1171.0 L1106.9,1169.3 L1119.6,1171.0 L1131.8,1169.3 L1139.2,1164.1 L1144.0,1164.9 L1171.0,1169.3 L1188.4,1160.6 L1200.6,1165.8 L1205.4,1169.3 L1210.2,1165.8 L1215.0,1167.6 L1225.0,1160.6 L1229.8,1164.1 L1235.0,1162.3 L1239.8,1164.1 L1244.6,1169.3 L1249.4,1167.6 L1254.6,1164.1 L1261.6,1165.8 L1269.0,1164.1 L1273.8,1167.6 L1278.6,1165.8 L1283.8,1162.3 L1288.6,1165.8 L1298.2,1168.4 L1305.6,1171.0 L1313.0,1165.8 L1320.4,1167.6 L1327.8,1165.8 L1332.6,1171.0 L1342.2,1167.6 L1354.8,1169.3 L1367.0,1167.6 L1371.8,1160.6 L1386.7,1165.8 L1398.9,1169.3 L1415.4,1172.8 L1415.4,1172.9 Z" fill="#0000ff" stroke="#0000ff" stroke-width="0.4" stroke-linejoin="miter"/>
<path d="M271.1,1137.9 L278.9,1120.5 L283.7,1114.8 L293.8,1094.4 L299.0,1098.7 L303.8,1087.8 L308.6,1074.8 L313.4,1046.4 L318.2,1034.3 L323.4,1035.5 L328.6,1057.3 L333.4,1105.3 L338.2,1120.5 L343.4,1137.9 L348.2,1146.6 L353.0,1133.6 L362.6,1114.0 L367.4,1100.9 L372.6,1112.7 L377.4,1117.5 L387.0,1128.3 L391.8,1127.0 L399.2,1133.6 L406.6,1145.8 L411.4,1155.4 L416.2,1149.7 L426.2,1145.8 L431.0,1137.9 L436.2,1136.2 L441.0,1141.4 L448.0,1139.7 L455.4,1146.6 L460.2,1148.4 L465.4,1151.9 L472.8,1160.6 L495.1,1165.8 L499.9,1157.1 L514.2,1151.9 L519.0,1155.4 L529.1,1160.6 L533.8,1165.8 L539.1,1164.1 L543.9,1165.8 L551.3,1162.3 L558.7,1167.6 L570.9,1171.0 L583.1,1161.0 L590.1,1154.5 L594.8,1153.2 L599.6,1155.4 L604.9,1153.6 L612.3,1156.2 L617.1,1159.7 L627.1,1157.1 L631.9,1158.8 L636.7,1151.9 L646.7,1161.9 L651.5,1161.0 L653.1,1160.6 L666.1,1153.6 L681.0,1158.8 L687.9,1162.3 L695.3,1167.6 L707.5,1171.0 L714.9,1169.3 L721.9,1171.0 L729.3,1169.3 L739.3,1165.8 L749.4,1158.8 L771.2,1169.3 L783.8,1171.0 L808.2,1166.3 L815.6,1168.0 L823.0,1165.8 L832.6,1169.3 L837.4,1167.6 L842.2,1164.1 L847.0,1165.8 L852.2,1160.6 L857.0,1158.8 L869.6,1162.3 L881.4,1164.1 L896.2,1171.0 L915.8,1164.1 L925.4,1155.4 L930.6,1157.1 L935.4,1155.4 L947.6,1164.1 L957.2,1167.6 L972.0,1169.3 L979.9,1171.0 L989.5,1167.6 L994.2,1162.3 L1004.3,1158.8 L1009.1,1162.3 L1013.9,1167.6 L1023.4,1172.8 L1033.0,1169.3 L1033.7,1168.4 L1045.9,1165.8 L1055.5,1160.6 L1063.3,1162.3 L1075.5,1169.3 L1087.7,1167.6 L1097.3,1169.3 L1102.6,1171.0 L1106.9,1169.3 L1119.6,1171.0 L1131.8,1169.3 L1139.2,1164.1 L1144.0,1164.9 L1171.0,1169.3 L1188.4,1160.6 L1200.6,1165.8 L1205.4,1169.3 L1210.2,1165.8 L1215.0,1167.6 L1225.0,1160.6 L1229.8,1164.1 L1235.0,1162.3 L1239.8,1164.1 L1244.6,1169.3 L1249.4,1167.6 L1254.6,1164.1 L1261.6,1165.8 L1269.0,1164.1 L1273.8,1167.6 L1278.6,1165.8 L1283.8,1162.3 L1288.6,1165.8 L1298.2,1168.4 L1305.6,1171.0 L1313.0,1165.8 L1320.4,1167.6 L1327.8,1165.8 L1332.6,1171.0 L1342.2,1167.6 L1354.8,1169.3 L1367.0,1167.6 L1371.8,1160.6 L1386.7,1165.8 L1398.9,1169.3 L1415.4,1172.8" fill="none" stroke="#000058" stroke-width="0.7" stroke-linejoin="miter"/>
<path d="M258.8,1034.3 H270.9 V1173.4 H258.8" fill="none" stroke="#555" stroke-width="1.3"/>
<text x="252" y="1037.0" font-size="12" text-anchor="end">52</text>
<text x="252" y="1176.2" font-size="12" text-anchor="end">0</text>
<text x="74" y="1110.0" font-size="23.5">GSM5550311</text>
<path d="M271.1,1326.9 L271.1,1288.3 L274.6,1293.5 L278.9,1289.6 L283.7,1281.7 L289.0,1266.5 L293.8,1244.7 L299.0,1241.6 L303.8,1222.9 L311.2,1198.1 L318.6,1188.9 L323.4,1201.1 L328.6,1233.8 L333.4,1266.5 L338.2,1295.7 L343.4,1302.6 L348.2,1307.9 L353.0,1294.8 L357.8,1287.0 L362.6,1283.9 L367.4,1278.2 L372.6,1274.3 L377.4,1273.0 L382.2,1274.3 L387.0,1278.2 L391.8,1283.9 L396.6,1293.5 L404.0,1292.6 L411.4,1300.0 L416.2,1298.3 L423.6,1302.2 L431.0,1301.3 L436.2,1304.4 L441.0,1302.6 L445.8,1306.6 L452.8,1305.7 L460.2,1309.2 L465.4,1310.9 L472.8,1315.7 L480.3,1317.9 L485.0,1316.6 L495.1,1320.1 L504.7,1322.2 L509.4,1320.1 L514.2,1318.8 L524.3,1321.8 L531.7,1322.2 L539.1,1316.6 L549.1,1313.5 L558.7,1313.5 L565.7,1315.3 L573.5,1318.3 L585.3,1316.6 L592.7,1317.9 L612.3,1314.0 L617.1,1315.7 L622.3,1313.1 L627.1,1314.4 L631.9,1310.0 L636.7,1312.2 L641.9,1317.5 L646.7,1315.7 L651.5,1320.1 L656.1,1320.9 L666.1,1318.8 L673.6,1316.6 L681.0,1319.6 L692.7,1325.3 L702.7,1323.6 L712.3,1324.4 L721.9,1326.6 L729.3,1325.3 L734.6,1321.8 L739.3,1318.8 L749.4,1316.6 L754.2,1317.5 L766.4,1315.3 L773.8,1317.5 L778.6,1320.9 L786.0,1322.2 L800.8,1319.2 L813.0,1317.9 L817.8,1319.6 L823.0,1317.9 L827.4,1319.2 L834.8,1316.6 L847.0,1318.8 L852.2,1324.0 L857.0,1320.9 L866.6,1318.8 L874.0,1315.7 L881.4,1316.6 L891.4,1315.3 L901.0,1314.0 L905.8,1316.6 L920.6,1317.9 L935.4,1319.2 L950.2,1316.6 L955.0,1317.5 L960.3,1319.2 L965.1,1315.3 L969.8,1317.0 L974.6,1317.9 L979.9,1315.3 L984.7,1317.9 L989.5,1315.7 L994.2,1317.0 L999.0,1315.3 L1003.8,1319.2 L1009.1,1315.7 L1016.0,1312.7 L1025.6,1311.4 L1033.0,1312.7 L1033.7,1313.5 L1038.9,1315.3 L1058.1,1310.0 L1067.7,1317.9 L1072.9,1316.6 L1082.5,1319.6 L1087.7,1317.0 L1092.5,1320.9 L1099.9,1322.2 L1106.9,1325.3 L1110.0,1325.3 L1116.9,1319.6 L1129.6,1315.7 L1139.2,1319.6 L1158.8,1322.2 L1166.2,1320.9 L1173.1,1322.2 L1181.0,1320.9 L1190.6,1324.0 L1200.6,1320.9 L1210.2,1319.6 L1225.0,1322.2 L1237.2,1320.1 L1244.6,1317.5 L1249.4,1316.6 L1254.6,1317.9 L1263.8,1321.8 L1278.6,1324.0 L1286.0,1320.1 L1298.2,1316.6 L1308.2,1319.2 L1325.2,1325.3 L1337.4,1322.2 L1352.2,1320.9 L1361.8,1316.6 L1369.7,1320.9 L1384.0,1325.3 L1394.1,1322.2 L1406.3,1317.9 L1411.5,1315.3 L1420.6,1317.5 L1420.6,1326.6 L1420.6,1326.9 Z" fill="#0000ff" stroke="#0000ff" stroke-width="0.4" stroke-linejoin="miter"/>
<path d="M271.1,1288.3 L274.6,1293.5 L278.9,1289.6 L283.7,1281.7 L289.0,1266.5 L293.8,1244.7 L299.0,1241.6 L303.8,1222.9 L311.2,1198.1 L318.6,1188.9 L323.4,1201.1 L328.6,1233.8 L333.4,1266.5 L338.2,1295.7 L343.4,1302.6 L348.2,1307.9 L353.0,1294.8 L357.8,1287.0 L362.6,1283.9 L367.4,1278.2 L372.6,1274.3 L377.4,1273.0 L382.2,1274.3 L387.0,1278.2 L391.8,1283.9 L396.6,1293.5 L404.0,1292.6 L411.4,1300.0 L416.2,1298.3 L423.6,1302.2 L431.0,1301.3 L436.2,1304.4 L441.0,1302.6 L445.8,1306.6 L452.8,1305.7 L460.2,1309.2 L465.4,1310.9 L472.8,1315.7 L480.3,1317.9 L485.0,1316.6 L495.1,1320.1 L504.7,1322.2 L509.4,1320.1 L514.2,1318.8 L524.3,1321.8 L531.7,1322.2 L539.1,1316.6 L549.1,1313.5 L558.7,1313.5 L565.7,1315.3 L573.5,1318.3 L585.3,1316.6 L592.7,1317.9 L612.3,1314.0 L617.1,1315.7 L622.3,1313.1 L627.1,1314.4 L631.9,1310.0 L636.7,1312.2 L641.9,1317.5 L646.7,1315.7 L651.5,1320.1 L656.1,1320.9 L666.1,1318.8 L673.6,1316.6 L681.0,1319.6 L692.7,1325.3 L702.7,1323.6 L712.3,1324.4 L721.9,1326.6 L729.3,1325.3 L734.6,1321.8 L739.3,1318.8 L749.4,1316.6 L754.2,1317.5 L766.4,1315.3 L773.8,1317.5 L778.6,1320.9 L786.0,1322.2 L800.8,1319.2 L813.0,1317.9 L817.8,1319.6 L823.0,1317.9 L827.4,1319.2 L834.8,1316.6 L847.0,1318.8 L852.2,1324.0 L857.0,1320.9 L866.6,1318.8 L874.0,1315.7 L881.4,1316.6 L891.4,1315.3 L901.0,1314.0 L905.8,1316.6 L920.6,1317.9 L935.4,1319.2 L950.2,1316.6 L955.0,1317.5 L960.3,1319.2 L965.1,1315.3 L969.8,1317.0 L974.6,1317.9 L979.9,1315.3 L984.7,1317.9 L989.5,1315.7 L994.2,1317.0 L999.0,1315.3 L1003.8,1319.2 L1009.1,1315.7 L1016.0,1312.7 L1025.6,1311.4 L1033.0,1312.7 L1033.7,1313.5 L1038.9,1315.3 L1058.1,1310.0 L1067.7,1317.9 L1072.9,1316.6 L1082.5,1319.6 L1087.7,1317.0 L1092.5,1320.9 L1099.9,1322.2 L1106.9,1325.3 L1110.0,1325.3 L1116.9,1319.6 L1129.6,1315.7 L1139.2,1319.6 L1158.8,1322.2 L1166.2,1320.9 L1173.1,1322.2 L1181.0,1320.9 L1190.6,1324.0 L1200.6,1320.9 L1210.2,1319.6 L1225.0,1322.2 L1237.2,1320.1 L1244.6,1317.5 L1249.4,1316.6 L1254.6,1317.9 L1263.8,1321.8 L1278.6,1324.0 L1286.0,1320.1 L1298.2,1316.6 L1308.2,1319.2 L1325.2,1325.3 L1337.4,1322.2 L1352.2,1320.9 L1361.8,1316.6 L1369.7,1320.9 L1384.0,1325.3 L1394.1,1322.2 L1406.3,1317.9 L1411.5,1315.3 L1420.6,1317.5 L1420.6,1326.6" fill="none" stroke="#000058" stroke-width="0.7" stroke-linejoin="miter"/>
<path d="M258.8,1188.3 H270.9 V1327.4 H258.8" fill="none" stroke="#555" stroke-width="1.3"/>
<text x="252" y="1191.0" font-size="12" text-anchor="end">65</text>
<text x="252" y="1330.2" font-size="12" text-anchor="end">0</text>
<text x="74" y="1264.0" font-size="23.5">GSM5550310</text>
<path d="M271.1,1480.9 L271.1,1435.0 L277.2,1439.4 L283.7,1438.1 L289.0,1429.4 L293.8,1430.7 L299.0,1425.5 L303.8,1415.4 L308.6,1389.3 L313.4,1361.0 L318.2,1342.3 L323.4,1344.8 L328.6,1380.6 L333.4,1408.9 L338.2,1430.7 L343.4,1448.1 L350.0,1442.9 L356.9,1424.1 L362.6,1398.0 L367.4,1396.7 L372.6,1387.1 L377.4,1403.2 L382.2,1417.6 L387.0,1415.4 L391.8,1425.5 L396.6,1428.5 L401.4,1432.9 L406.6,1440.7 L411.4,1444.2 L416.2,1440.7 L421.4,1443.8 L426.2,1448.1 L431.0,1451.2 L436.2,1460.7 L445.8,1455.5 L452.8,1458.1 L460.2,1467.7 L465.4,1469.0 L470.2,1462.5 L475.0,1464.2 L480.3,1461.6 L485.0,1464.2 L490.3,1472.1 L495.1,1475.6 L504.7,1480.8 L511.6,1475.6 L519.0,1472.9 L524.3,1472.5 L529.1,1473.8 L533.8,1476.9 L543.9,1475.6 L553.9,1471.2 L558.7,1469.9 L563.5,1472.5 L568.7,1469.9 L575.7,1472.5 L588.3,1466.4 L594.8,1465.1 L599.6,1463.4 L604.9,1466.8 L612.3,1468.6 L617.1,1473.4 L622.3,1466.8 L627.1,1462.1 L636.7,1454.6 L641.9,1453.3 L646.7,1459.9 L651.5,1456.4 L653.1,1457.3 L660.9,1466.8 L666.1,1464.2 L670.9,1466.8 L675.7,1464.2 L685.8,1466.8 L692.7,1472.1 L700.1,1471.2 L705.4,1473.8 L714.9,1476.9 L720.2,1479.5 L736.7,1476.9 L744.6,1478.2 L749.4,1475.6 L761.6,1478.2 L771.2,1480.8 L805.6,1477.3 L815.6,1475.6 L825.2,1471.2 L834.8,1473.4 L842.2,1476.9 L847.0,1473.8 L857.0,1471.2 L866.6,1472.5 L876.6,1467.7 L884.0,1466.8 L891.4,1471.2 L896.2,1469.9 L901.0,1473.8 L923.2,1469.9 L928.0,1471.2 L932.8,1466.8 L937.6,1465.1 L942.8,1460.7 L950.2,1466.4 L962.4,1469.9 L969.8,1466.8 L974.6,1469.0 L982.0,1471.2 L992.1,1476.9 L999.0,1473.8 L1009.1,1472.5 L1021.3,1468.6 L1028.2,1469.9 L1033.0,1468.6 L1033.7,1468.6 L1038.9,1473.4 L1043.3,1475.6 L1048.5,1468.6 L1053.3,1471.2 L1058.1,1469.9 L1063.3,1471.2 L1067.7,1473.8 L1080.3,1469.9 L1090.4,1473.8 L1097.3,1476.9 L1102.6,1475.6 L1106.9,1476.9 L1121.7,1473.8 L1127.0,1471.2 L1131.8,1472.5 L1136.5,1469.9 L1141.3,1471.2 L1151.4,1469.9 L1161.4,1471.2 L1166.2,1473.8 L1185.8,1476.9 L1195.4,1479.5 L1219.8,1472.5 L1225.0,1473.8 L1229.8,1472.5 L1235.0,1473.8 L1239.8,1478.2 L1244.6,1475.6 L1251.6,1472.5 L1259.0,1466.8 L1263.8,1468.6 L1269.0,1466.8 L1273.8,1467.7 L1278.6,1469.9 L1283.8,1467.7 L1290.8,1472.5 L1298.2,1469.9 L1303.0,1473.8 L1313.0,1469.9 L1317.8,1473.8 L1322.6,1472.5 L1327.8,1474.7 L1335.2,1478.2 L1359.6,1479.5 L1374.5,1480.8 L1398.9,1476.9 L1406.3,1474.7 L1413.2,1473.4 L1419.3,1472.5 L1423.7,1473.8 L1423.7,1480.8 L1423.7,1480.9 Z" fill="#0000ff" stroke="#0000ff" stroke-width="0.4" stroke-linejoin="miter"/>
<path d="M271.1,1435.0 L277.2,1439.4 L283.7,1438.1 L289.0,1429.4 L293.8,1430.7 L299.0,1425.5 L303.8,1415.4 L308.6,1389.3 L313.4,1361.0 L318.2,1342.3 L323.4,1344.8 L328.6,1380.6 L333.4,1408.9 L338.2,1430.7 L343.4,1448.1 L350.0,1442.9 L356.9,1424.1 L362.6,1398.0 L367.4,1396.7 L372.6,1387.1 L377.4,1403.2 L382.2,1417.6 L387.0,1415.4 L391.8,1425.5 L396.6,1428.5 L401.4,1432.9 L406.6,1440.7 L411.4,1444.2 L416.2,1440.7 L421.4,1443.8 L426.2,1448.1 L431.0,1451.2 L436.2,1460.7 L445.8,1455.5 L452.8,1458.1 L460.2,1467.7 L465.4,1469.0 L470.2,1462.5 L475.0,1464.2 L480.3,1461.6 L485.0,1464.2 L490.3,1472.1 L495.1,1475.6 L504.7,1480.8 L511.6,1475.6 L519.0,1472.9 L524.3,1472.5 L529.1,1473.8 L533.8,1476.9 L543.9,1475.6 L553.9,1471.2 L558.7,1469.9 L563.5,1472.5 L568.7,1469.9 L575.7,1472.5 L588.3,1466.4 L594.8,1465.1 L599.6,1463.4 L604.9,1466.8 L612.3,1468.6 L617.1,1473.4 L622.3,1466.8 L627.1,1462.1 L636.7,1454.6 L641.9,1453.3 L646.7,1459.9 L651.5,1456.4 L653.1,1457.3 L660.9,1466.8 L666.1,1464.2 L670.9,1466.8 L675.7,1464.2 L685.8,1466.8 L692.7,1472.1 L700.1,1471.2 L705.4,1473.8 L714.9,1476.9 L720.2,1479.5 L736.7,1476.9 L744.6,1478.2 L749.4,1475.6 L761.6,1478.2 L771.2,1480.8 L805.6,1477.3 L815.6,1475.6 L825.2,1471.2 L834.8,1473.4 L842.2,1476.9 L847.0,1473.8 L857.0,1471.2 L866.6,1472.5 L876.6,1467.7 L884.0,1466.8 L891.4,1471.2 L896.2,1469.9 L901.0,1473.8 L923.2,1469.9 L928.0,1471.2 L932.8,1466.8 L937.6,1465.1 L942.8,1460.7 L950.2,1466.4 L962.4,1469.9 L969.8,1466.8 L974.6,1469.0 L982.0,1471.2 L992.1,1476.9 L999.0,1473.8 L1009.1,1472.5 L1021.3,1468.6 L1028.2,1469.9 L1033.0,1468.6 L1033.7,1468.6 L1038.9,1473.4 L1043.3,1475.6 L1048.5,1468.6 L1053.3,1471.2 L1058.1,1469.9 L1063.3,1471.2 L1067.7,1473.8 L1080.3,1469.9 L1090.4,1473.8 L1097.3,1476.9 L1102.6,1475.6 L1106.9,1476.9 L1121.7,1473.8 L1127.0,1471.2 L1131.8,1472.5 L1136.5,1469.9 L1141.3,1471.2 L1151.4,1469.9 L1161.4,1471.2 L1166.2,1473.8 L1185.8,1476.9 L1195.4,1479.5 L1219.8,1472.5 L1225.0,1473.8 L1229.8,1472.5 L1235.0,1473.8 L1239.8,1478.2 L1244.6,1475.6 L1251.6,1472.5 L1259.0,1466.8 L1263.8,1468.6 L1269.0,1466.8 L1273.8,1467.7 L1278.6,1469.9 L1283.8,1467.7 L1290.8,1472.5 L1298.2,1469.9 L1303.0,1473.8 L1313.0,1469.9 L1317.8,1473.8 L1322.6,1472.5 L1327.8,1474.7 L1335.2,1478.2 L1359.6,1479.5 L1374.5,1480.8 L1398.9,1476.9 L1406.3,1474.7 L1413.2,1473.4 L1419.3,1472.5 L1423.7,1473.8 L1423.7,1480.8" fill="none" stroke="#000058" stroke-width="0.7" stroke-linejoin="miter"/>
<path d="M258.8,1342.3 H270.9 V1481.4 H258.8" fill="none" stroke="#555" stroke-width="1.3"/>
<text x="252" y="1345.0" font-size="12" text-anchor="end">61</text>
<text x="252" y="1484.2" font-size="12" text-anchor="end">0</text>
<text x="74" y="1418.0" font-size="23.5">GSM5550309</text>
<path d="M271.1,1634.9 L271.1,1613.7 L273.7,1597.6 L278.9,1587.5 L283.7,1580.1 L289.0,1571.0 L293.8,1568.8 L299.0,1570.1 L303.8,1559.2 L308.6,1528.7 L313.4,1506.9 L318.2,1496.9 L323.4,1499.1 L328.6,1535.3 L333.4,1575.8 L338.2,1596.3 L345.6,1607.2 L352.1,1605.0 L357.8,1598.4 L365.2,1591.0 L377.4,1606.3 L382.2,1618.0 L387.0,1624.6 L391.8,1620.2 L396.6,1615.9 L401.4,1613.7 L406.6,1615.0 L411.4,1622.4 L416.2,1623.7 L421.4,1622.4 L428.4,1619.4 L436.2,1613.7 L441.0,1620.2 L445.8,1623.3 L450.6,1624.6 L458.0,1629.8 L470.2,1625.5 L482.9,1623.3 L499.9,1628.9 L504.7,1629.8 L511.6,1626.8 L516.9,1625.9 L529.1,1628.9 L539.1,1629.8 L543.9,1628.9 L551.3,1631.1 L558.7,1625.9 L563.5,1626.8 L570.9,1625.5 L578.3,1631.1 L583.1,1627.2 L588.3,1628.9 L594.8,1624.6 L604.9,1627.2 L612.3,1628.9 L622.3,1627.2 L631.9,1628.1 L649.3,1625.5 L656.1,1629.8 L668.3,1628.1 L680.5,1629.8 L690.5,1633.3 L705.4,1629.8 L721.9,1633.3 L734.6,1631.1 L742.0,1632.4 L749.4,1631.1 L754.2,1632.4 L761.6,1631.1 L769.0,1632.4 L773.8,1631.1 L778.6,1632.4 L788.1,1627.6 L793.4,1625.9 L798.2,1623.7 L808.2,1627.2 L815.6,1632.0 L823.0,1634.9 L834.8,1629.8 L842.2,1625.5 L847.0,1626.8 L857.0,1623.7 L862.2,1626.8 L866.6,1625.5 L891.4,1629.8 L905.8,1632.0 L915.8,1633.3 L928.0,1632.0 L937.6,1633.3 L945.0,1630.2 L952.4,1632.4 L960.3,1628.9 L965.1,1632.4 L969.8,1627.2 L982.0,1628.9 L1009.1,1634.6 L1021.3,1629.8 L1028.2,1628.9 L1035.6,1631.1 L1043.3,1632.4 L1053.3,1633.3 L1067.7,1630.2 L1080.3,1631.1 L1097.3,1633.3 L1102.6,1630.2 L1110.0,1632.0 L1124.3,1634.9 L1133.9,1632.4 L1146.6,1630.2 L1151.4,1633.3 L1158.8,1628.9 L1166.2,1626.8 L1171.0,1625.5 L1175.8,1628.9 L1190.6,1630.2 L1205.4,1633.3 L1225.0,1634.9 L1247.2,1633.3 L1254.6,1628.9 L1263.8,1627.2 L1273.8,1624.6 L1283.8,1625.9 L1288.6,1627.2 L1293.4,1632.0 L1300.8,1628.9 L1308.2,1630.2 L1313.0,1627.2 L1317.8,1628.9 L1322.6,1626.8 L1327.8,1623.3 L1337.4,1625.5 L1345.3,1631.1 L1352.2,1632.4 L1359.6,1629.8 L1367.0,1628.9 L1386.7,1631.1 L1398.9,1631.1 L1413.2,1629.8 L1423.7,1631.6 L1423.7,1634.6 L1423.7,1634.9 Z" fill="#0000ff" stroke="#0000ff" stroke-width="0.4" stroke-linejoin="miter"/>
<path d="M271.1,1613.7 L273.7,1597.6 L278.9,1587.5 L283.7,1580.1 L289.0,1571.0 L293.8,1568.8 L299.0,1570.1 L303.8,1559.2 L308.6,1528.7 L313.4,1506.9 L318.2,1496.9 L323.4,1499.1 L328.6,1535.3 L333.4,1575.8 L338.2,1596.3 L345.6,1607.2 L352.1,1605.0 L357.8,1598.4 L365.2,1591.0 L377.4,1606.3 L382.2,1618.0 L387.0,1624.6 L391.8,1620.2 L396.6,1615.9 L401.4,1613.7 L406.6,1615.0 L411.4,1622.4 L416.2,1623.7 L421.4,1622.4 L428.4,1619.4 L436.2,1613.7 L441.0,1620.2 L445.8,1623.3 L450.6,1624.6 L458.0,1629.8 L470.2,1625.5 L482.9,1623.3 L499.9,1628.9 L504.7,1629.8 L511.6,1626.8 L516.9,1625.9 L529.1,1628.9 L539.1,1629.8 L543.9,1628.9 L551.3,1631.1 L558.7,1625.9 L563.5,1626.8 L570.9,1625.5 L578.3,1631.1 L583.1,1627.2 L588.3,1628.9 L594.8,1624.6 L604.9,1627.2 L612.3,1628.9 L622.3,1627.2 L631.9,1628.1 L649.3,1625.5 L656.1,1629.8 L668.3,1628.1 L680.5,1629.8 L690.5,1633.3 L705.4,1629.8 L721.9,1633.3 L734.6,1631.1 L742.0,1632.4 L749.4,1631.1 L754.2,1632.4 L761.6,1631.1 L769.0,1632.4 L773.8,1631.1 L778.6,1632.4 L788.1,1627.6 L793.4,1625.9 L798.2,1623.7 L808.2,1627.2 L815.6,1632.0 L823.0,1634.9 L834.8,1629.8 L842.2,1625.5 L847.0,1626.8 L857.0,1623.7 L862.2,1626.8 L866.6,1625.5 L891.4,1629.8 L905.8,1632.0 L915.8,1633.3 L928.0,1632.0 L937.6,1633.3 L945.0,1630.2 L952.4,1632.4 L960.3,1628.9 L965.1,1632.4 L969.8,1627.2 L982.0,1628.9 L1009.1,1634.6 L1021.3,1629.8 L1028.2,1628.9 L1035.6,1631.1 L1043.3,1632.4 L1053.3,1633.3 L1067.7,1630.2 L1080.3,1631.1 L1097.3,1633.3 L1102.6,1630.2 L1110.0,1632.0 L1124.3,1634.9 L1133.9,1632.4 L1146.6,1630.2 L1151.4,1633.3 L1158.8,1628.9 L1166.2,1626.8 L1171.0,1625.5 L1175.8,1628.9 L1190.6,1630.2 L1205.4,1633.3 L1225.0,1634.9 L1247.2,1633.3 L1254.6,1628.9 L1263.8,1627.2 L1273.8,1624.6 L1283.8,1625.9 L1288.6,1627.2 L1293.4,1632.0 L1300.8,1628.9 L1308.2,1630.2 L1313.0,1627.2 L1317.8,1628.9 L1322.6,1626.8 L1327.8,1623.3 L1337.4,1625.5 L1345.3,1631.1 L1352.2,1632.4 L1359.6,1629.8 L1367.0,1628.9 L1386.7,1631.1 L1398.9,1631.1 L1413.2,1629.8 L1423.7,1631.6 L1423.7,1634.6" fill="none" stroke="#000058" stroke-width="0.7" stroke-linejoin="miter"/>
<path d="M258.8,1496.3 H270.9 V1635.4 H258.8" fill="none" stroke="#555" stroke-width="1.3"/>
<text x="252" y="1499.0" font-size="12" text-anchor="end">70</text>
<text x="252" y="1638.2" font-size="12" text-anchor="end">0</text>
<text x="74" y="1572.0" font-size="23.5">GSM5550308</text>
<path d="M271.1,1788.9 L271.1,1747.4 L278.9,1737.4 L291.1,1712.5 L299.0,1685.1 L303.8,1678.6 L308.6,1697.3 L313.4,1658.1 L318.6,1684.2 L323.4,1664.6 L328.6,1650.3 L333.4,1712.5 L338.2,1732.1 L343.4,1726.5 L348.2,1733.0 L353.0,1726.5 L362.6,1699.5 L367.4,1692.1 L372.6,1698.2 L377.4,1678.6 L382.2,1712.5 L391.8,1726.5 L399.2,1733.5 L408.8,1740.0 L428.8,1726.5 L436.2,1746.1 L441.0,1740.9 L448.0,1753.1 L455.4,1747.4 L460.2,1760.5 L475.0,1781.4 L480.3,1768.3 L487.7,1761.3 L495.1,1768.3 L499.9,1781.4 L514.2,1788.8 L529.1,1781.4 L539.1,1768.3 L546.0,1761.3 L568.7,1781.4 L578.3,1774.8 L588.3,1753.9 L592.7,1760.5 L597.5,1740.9 L602.3,1747.4 L607.5,1767.0 L612.3,1753.9 L617.1,1767.9 L629.3,1761.3 L644.1,1768.3 L653.7,1781.4 L656.1,1780.9 L666.1,1774.8 L675.7,1781.4 L690.5,1753.9 L695.3,1768.3 L717.6,1788.8 L746.8,1782.3 L771.2,1788.8 L783.8,1774.8 L793.4,1781.4 L808.2,1768.3 L813.0,1774.4 L823.0,1761.3 L827.8,1767.9 L834.8,1761.3 L847.0,1767.9 L866.6,1781.4 L888.8,1774.8 L903.6,1781.4 L911.0,1768.3 L925.4,1753.9 L932.8,1761.3 L940.2,1753.9 L947.6,1761.3 L962.4,1768.3 L979.9,1774.8 L994.2,1753.9 L999.0,1761.3 L1006.4,1753.9 L1016.0,1761.3 L1023.4,1753.9 L1030.4,1762.6 L1036.5,1768.3 L1038.1,1771.4 L1043.3,1781.4 L1051.1,1772.7 L1063.3,1761.3 L1068.1,1774.8 L1082.5,1788.8 L1092.5,1774.8 L1102.6,1768.3 L1119.6,1761.3 L1133.9,1774.8 L1141.3,1768.3 L1146.6,1774.8 L1151.4,1768.3 L1163.6,1760.5 L1173.1,1754.8 L1181.0,1747.4 L1185.8,1733.5 L1190.6,1740.9 L1200.6,1768.3 L1208.0,1774.8 L1215.4,1760.5 L1229.8,1747.4 L1235.0,1761.3 L1249.4,1774.8 L1256.8,1761.3 L1266.4,1768.3 L1278.6,1781.4 L1290.8,1788.8 L1305.6,1774.8 L1315.6,1768.3 L1325.2,1774.8 L1340.0,1788.8 L1354.8,1782.3 L1367.0,1788.8 L1371.8,1774.8 L1377.1,1768.3 L1386.7,1740.9 L1394.1,1753.9 L1403.6,1767.9 L1410.6,1753.9 L1415.4,1747.4 L1421.5,1733.5 L1423.7,1740.0 L1423.7,1788.8 L1423.7,1788.9 Z" fill="#0000ff" stroke="#0000ff" stroke-width="0.4" stroke-linejoin="miter"/>
<path d="M271.1,1747.4 L278.9,1737.4 L291.1,1712.5 L299.0,1685.1 L303.8,1678.6 L308.6,1697.3 L313.4,1658.1 L318.6,1684.2 L323.4,1664.6 L328.6,1650.3 L333.4,1712.5 L338.2,1732.1 L343.4,1726.5 L348.2,1733.0 L353.0,1726.5 L362.6,1699.5 L367.4,1692.1 L372.6,1698.2 L377.4,1678.6 L382.2,1712.5 L391.8,1726.5 L399.2,1733.5 L408.8,1740.0 L428.8,1726.5 L436.2,1746.1 L441.0,1740.9 L448.0,1753.1 L455.4,1747.4 L460.2,1760.5 L475.0,1781.4 L480.3,1768.3 L487.7,1761.3 L495.1,1768.3 L499.9,1781.4 L514.2,1788.8 L529.1,1781.4 L539.1,1768.3 L546.0,1761.3 L568.7,1781.4 L578.3,1774.8 L588.3,1753.9 L592.7,1760.5 L597.5,1740.9 L602.3,1747.4 L607.5,1767.0 L612.3,1753.9 L617.1,1767.9 L629.3,1761.3 L644.1,1768.3 L653.7,1781.4 L656.1,1780.9 L666.1,1774.8 L675.7,1781.4 L690.5,1753.9 L695.3,1768.3 L717.6,1788.8 L746.8,1782.3 L771.2,1788.8 L783.8,1774.8 L793.4,1781.4 L808.2,1768.3 L813.0,1774.4 L823.0,1761.3 L827.8,1767.9 L834.8,1761.3 L847.0,1767.9 L866.6,1781.4 L888.8,1774.8 L903.6,1781.4 L911.0,1768.3 L925.4,1753.9 L932.8,1761.3 L940.2,1753.9 L947.6,1761.3 L962.4,1768.3 L979.9,1774.8 L994.2,1753.9 L999.0,1761.3 L1006.4,1753.9 L1016.0,1761.3 L1023.4,1753.9 L1030.4,1762.6 L1036.5,1768.3 L1038.1,1771.4 L1043.3,1781.4 L1051.1,1772.7 L1063.3,1761.3 L1068.1,1774.8 L1082.5,1788.8 L1092.5,1774.8 L1102.6,1768.3 L1119.6,1761.3 L1133.9,1774.8 L1141.3,1768.3 L1146.6,1774.8 L1151.4,1768.3 L1163.6,1760.5 L1173.1,1754.8 L1181.0,1747.4 L1185.8,1733.5 L1190.6,1740.9 L1200.6,1768.3 L1208.0,1774.8 L1215.4,1760.5 L1229.8,1747.4 L1235.0,1761.3 L1249.4,1774.8 L1256.8,1761.3 L1266.4,1768.3 L1278.6,1781.4 L1290.8,1788.8 L1305.6,1774.8 L1315.6,1768.3 L1325.2,1774.8 L1340.0,1788.8 L1354.8,1782.3 L1367.0,1788.8 L1371.8,1774.8 L1377.1,1768.3 L1386.7,1740.9 L1394.1,1753.9 L1403.6,1767.9 L1410.6,1753.9 L1415.4,1747.4 L1421.5,1733.5 L1423.7,1740.0 L1423.7,1788.8" fill="none" stroke="#000058" stroke-width="0.7" stroke-linejoin="miter"/>
<path d="M258.8,1650.3 H270.9 V1789.4 H258.8" fill="none" stroke="#555" stroke-width="1.3"/>
<text x="252" y="1653.0" font-size="12" text-anchor="end">16</text>
<text x="252" y="1792.2" font-size="12" text-anchor="end">0</text>
<text x="74" y="1726.0" font-size="23.5">GSM5550307</text>
<path d="M271.1,1942.9 L271.1,1923.9 L273.7,1905.6 L281.1,1890.3 L289.0,1850.7 L293.8,1857.6 L299.0,1871.6 L303.8,1850.7 L308.6,1880.3 L318.6,1804.9 L326.0,1811.9 L333.4,1850.7 L340.8,1889.0 L350.8,1896.4 L357.8,1889.0 L362.6,1873.8 L370.0,1889.0 L377.4,1896.4 L382.2,1919.5 L396.6,1934.8 L401.4,1927.4 L406.6,1911.7 L421.4,1889.0 L426.2,1896.4 L433.6,1912.1 L441.0,1919.5 L445.8,1927.4 L452.8,1919.5 L460.2,1927.4 L465.4,1904.3 L472.8,1913.0 L502.5,1942.6 L529.1,1919.5 L539.1,1904.3 L543.9,1911.7 L549.1,1904.3 L558.7,1873.8 L563.5,1889.0 L568.7,1896.4 L573.5,1911.7 L578.3,1942.6 L585.3,1927.4 L592.7,1919.5 L597.5,1904.3 L602.3,1918.6 L607.5,1904.3 L612.3,1910.8 L617.1,1927.4 L622.3,1919.5 L627.1,1934.8 L634.5,1927.4 L649.3,1934.8 L663.5,1927.4 L670.9,1934.8 L675.7,1927.4 L687.9,1919.5 L705.4,1927.4 L714.9,1934.8 L731.9,1942.6 L751.5,1934.8 L759.0,1927.4 L769.0,1919.5 L778.6,1927.4 L783.8,1919.5 L788.6,1927.4 L796.0,1919.5 L805.6,1934.8 L813.0,1942.6 L827.8,1919.5 L834.8,1911.7 L844.8,1904.3 L857.0,1913.0 L862.2,1918.6 L866.6,1926.0 L881.4,1904.3 L888.8,1889.0 L901.0,1896.4 L911.0,1881.2 L918.0,1890.3 L923.2,1896.4 L930.6,1917.3 L935.4,1896.4 L945.0,1910.8 L950.2,1904.3 L955.0,1919.5 L969.8,1904.3 L974.6,1896.4 L979.9,1903.4 L984.7,1889.0 L989.5,1896.4 L996.9,1904.3 L1006.4,1919.5 L1013.9,1911.7 L1018.6,1896.4 L1025.6,1904.3 L1036.5,1908.6 L1043.3,1911.7 L1063.3,1927.4 L1072.9,1919.5 L1082.5,1904.3 L1092.5,1918.6 L1099.9,1896.4 L1107.4,1889.0 L1112.1,1873.8 L1119.6,1911.7 L1133.9,1942.6 L1141.3,1927.4 L1151.4,1911.7 L1156.2,1896.4 L1161.4,1909.9 L1166.2,1904.3 L1173.6,1910.8 L1181.0,1904.3 L1185.8,1910.8 L1190.6,1904.3 L1198.0,1919.5 L1205.4,1927.4 L1210.2,1934.8 L1229.8,1896.4 L1235.0,1903.4 L1242.0,1889.0 L1254.2,1911.7 L1261.6,1934.8 L1269.0,1927.4 L1276.4,1934.8 L1283.8,1927.4 L1293.4,1911.7 L1298.2,1896.4 L1322.6,1934.8 L1335.2,1919.5 L1345.3,1911.7 L1359.6,1927.4 L1371.8,1919.5 L1377.1,1904.3 L1384.0,1911.7 L1394.1,1896.4 L1403.6,1865.9 L1410.6,1872.5 L1416.3,1881.2 L1420.6,1904.3 L1420.6,1942.6 L1420.6,1942.9 Z" fill="#0000ff" stroke="#0000ff" stroke-width="0.4" stroke-linejoin="miter"/>
<path d="M271.1,1923.9 L273.7,1905.6 L281.1,1890.3 L289.0,1850.7 L293.8,1857.6 L299.0,1871.6 L303.8,1850.7 L308.6,1880.3 L318.6,1804.9 L326.0,1811.9 L333.4,1850.7 L340.8,1889.0 L350.8,1896.4 L357.8,1889.0 L362.6,1873.8 L370.0,1889.0 L377.4,1896.4 L382.2,1919.5 L396.6,1934.8 L401.4,1927.4 L406.6,1911.7 L421.4,1889.0 L426.2,1896.4 L433.6,1912.1 L441.0,1919.5 L445.8,1927.4 L452.8,1919.5 L460.2,1927.4 L465.4,1904.3 L472.8,1913.0 L502.5,1942.6 L529.1,1919.5 L539.1,1904.3 L543.9,1911.7 L549.1,1904.3 L558.7,1873.8 L563.5,1889.0 L568.7,1896.4 L573.5,1911.7 L578.3,1942.6 L585.3,1927.4 L592.7,1919.5 L597.5,1904.3 L602.3,1918.6 L607.5,1904.3 L612.3,1910.8 L617.1,1927.4 L622.3,1919.5 L627.1,1934.8 L634.5,1927.4 L649.3,1934.8 L663.5,1927.4 L670.9,1934.8 L675.7,1927.4 L687.9,1919.5 L705.4,1927.4 L714.9,1934.8 L731.9,1942.6 L751.5,1934.8 L759.0,1927.4 L769.0,1919.5 L778.6,1927.4 L783.8,1919.5 L788.6,1927.4 L796.0,1919.5 L805.6,1934.8 L813.0,1942.6 L827.8,1919.5 L834.8,1911.7 L844.8,1904.3 L857.0,1913.0 L862.2,1918.6 L866.6,1926.0 L881.4,1904.3 L888.8,1889.0 L901.0,1896.4 L911.0,1881.2 L918.0,1890.3 L923.2,1896.4 L930.6,1917.3 L935.4,1896.4 L945.0,1910.8 L950.2,1904.3 L955.0,1919.5 L969.8,1904.3 L974.6,1896.4 L979.9,1903.4 L984.7,1889.0 L989.5,1896.4 L996.9,1904.3 L1006.4,1919.5 L1013.9,1911.7 L1018.6,1896.4 L1025.6,1904.3 L1036.5,1908.6 L1043.3,1911.7 L1063.3,1927.4 L1072.9,1919.5 L1082.5,1904.3 L1092.5,1918.6 L1099.9,1896.4 L1107.4,1889.0 L1112.1,1873.8 L1119.6,1911.7 L1133.9,1942.6 L1141.3,1927.4 L1151.4,1911.7 L1156.2,1896.4 L1161.4,1909.9 L1166.2,1904.3 L1173.6,1910.8 L1181.0,1904.3 L1185.8,1910.8 L1190.6,1904.3 L1198.0,1919.5 L1205.4,1927.4 L1210.2,1934.8 L1229.8,1896.4 L1235.0,1903.4 L1242.0,1889.0 L1254.2,1911.7 L1261.6,1934.8 L1269.0,1927.4 L1276.4,1934.8 L1283.8,1927.4 L1293.4,1911.7 L1298.2,1896.4 L1322.6,1934.8 L1335.2,1919.5 L1345.3,1911.7 L1359.6,1927.4 L1371.8,1919.5 L1377.1,1904.3 L1384.0,1911.7 L1394.1,1896.4 L1403.6,1865.9 L1410.6,1872.5 L1416.3,1881.2 L1420.6,1904.3 L1420.6,1942.6" fill="none" stroke="#000058" stroke-width="0.7" stroke-linejoin="miter"/>
<path d="M258.8,1804.3 H270.9 V1943.4 H258.8" fill="none" stroke="#555" stroke-width="1.3"/>
<text x="252" y="1807.0" font-size="12" text-anchor="end">13</text>
<text x="252" y="1946.2" font-size="12" text-anchor="end">0</text>
<text x="74" y="1880.0" font-size="23.5">GSM5550306</text>
<path d="M273.7,2096.9 L273.7,2087.2 L278.9,2059.8 L293.8,2032.3 L299.0,2049.7 L303.8,2032.3 L313.4,2014.0 L318.6,1958.3 L333.4,2014.0 L338.2,2079.4 L343.4,2087.2 L355.2,2096.8 L367.4,2087.2 L372.6,2078.1 L377.4,2059.8 L384.8,2050.6 L394.4,2032.3 L404.0,2041.5 L416.2,2087.2 L423.6,2078.1 L433.6,2069.3 L441.0,2059.8 L450.6,2078.1 L460.2,2069.3 L472.8,2059.8 L480.3,2078.1 L485.0,2041.5 L490.3,2032.3 L495.1,2041.5 L499.9,2058.9 L504.7,2050.6 L524.3,2068.9 L529.1,2078.1 L536.5,2059.8 L543.9,2078.1 L549.1,2068.9 L553.9,2087.2 L563.5,2068.9 L573.5,2059.8 L578.3,2068.5 L583.1,2059.8 L588.3,2068.9 L600.5,2078.1 L619.7,2050.6 L631.9,2041.5 L636.7,2049.7 L644.1,2032.3 L653.7,2041.5 L660.9,2051.0 L681.0,2087.2 L685.8,2078.1 L695.3,2087.2 L710.2,2096.8 L727.1,2087.2 L742.0,2096.8 L756.8,2087.2 L771.2,2096.8 L790.8,2078.1 L798.2,2068.9 L803.4,2059.8 L810.8,2068.9 L818.2,2087.2 L823.0,2096.8 L827.8,2087.2 L837.4,2078.1 L847.0,2087.2 L854.8,2096.8 L866.6,2087.2 L878.8,2068.9 L888.8,2041.5 L898.8,2050.6 L905.8,2078.1 L911.0,2068.9 L925.4,2050.6 L930.6,2059.8 L935.4,2078.1 L967.2,2096.8 L974.6,2078.1 L982.0,2069.3 L996.9,2059.8 L1009.1,2068.9 L1013.9,2087.2 L1021.3,2068.9 L1030.4,2050.6 L1036.5,2057.6 L1038.9,2058.9 L1043.3,2032.3 L1048.5,2040.1 L1053.3,2032.3 L1058.1,2041.5 L1065.5,2067.2 L1072.9,2050.6 L1077.7,2058.9 L1082.5,2050.6 L1087.7,2059.8 L1092.5,2085.0 L1097.3,2068.9 L1102.6,2077.2 L1112.1,2059.8 L1116.9,2076.3 L1121.7,2059.8 L1131.8,2068.9 L1144.0,2087.2 L1166.2,2096.8 L1188.4,2087.2 L1195.4,2050.6 L1202.8,2041.5 L1210.2,1995.3 L1217.6,2011.8 L1225.0,1995.3 L1232.4,2041.5 L1239.8,2050.6 L1247.2,2078.1 L1259.4,2096.8 L1273.8,2087.2 L1283.8,2078.1 L1290.8,2087.2 L1303.0,2078.1 L1315.6,2050.6 L1322.6,2058.9 L1327.8,2050.6 L1332.6,2078.1 L1349.6,2096.8 L1357.0,2078.1 L1367.0,2068.9 L1379.2,2078.1 L1391.4,2059.8 L1396.2,2068.0 L1401.0,2059.8 L1410.6,2077.2 L1415.4,2068.9 L1420.6,2083.7 L1423.7,2068.9 L1423.7,2096.8 L1423.7,2096.9 Z" fill="#0000ff" stroke="#0000ff" stroke-width="0.4" stroke-linejoin="miter"/>
<path d="M273.7,2087.2 L278.9,2059.8 L293.8,2032.3 L299.0,2049.7 L303.8,2032.3 L313.4,2014.0 L318.6,1958.3 L333.4,2014.0 L338.2,2079.4 L343.4,2087.2 L355.2,2096.8 L367.4,2087.2 L372.6,2078.1 L377.4,2059.8 L384.8,2050.6 L394.4,2032.3 L404.0,2041.5 L416.2,2087.2 L423.6,2078.1 L433.6,2069.3 L441.0,2059.8 L450.6,2078.1 L460.2,2069.3 L472.8,2059.8 L480.3,2078.1 L485.0,2041.5 L490.3,2032.3 L495.1,2041.5 L499.9,2058.9 L504.7,2050.6 L524.3,2068.9 L529.1,2078.1 L536.5,2059.8 L543.9,2078.1 L549.1,2068.9 L553.9,2087.2 L563.5,2068.9 L573.5,2059.8 L578.3,2068.5 L583.1,2059.8 L588.3,2068.9 L600.5,2078.1 L619.7,2050.6 L631.9,2041.5 L636.7,2049.7 L644.1,2032.3 L653.7,2041.5 L660.9,2051.0 L681.0,2087.2 L685.8,2078.1 L695.3,2087.2 L710.2,2096.8 L727.1,2087.2 L742.0,2096.8 L756.8,2087.2 L771.2,2096.8 L790.8,2078.1 L798.2,2068.9 L803.4,2059.8 L810.8,2068.9 L818.2,2087.2 L823.0,2096.8 L827.8,2087.2 L837.4,2078.1 L847.0,2087.2 L854.8,2096.8 L866.6,2087.2 L878.8,2068.9 L888.8,2041.5 L898.8,2050.6 L905.8,2078.1 L911.0,2068.9 L925.4,2050.6 L930.6,2059.8 L935.4,2078.1 L967.2,2096.8 L974.6,2078.1 L982.0,2069.3 L996.9,2059.8 L1009.1,2068.9 L1013.9,2087.2 L1021.3,2068.9 L1030.4,2050.6 L1036.5,2057.6 L1038.9,2058.9 L1043.3,2032.3 L1048.5,2040.1 L1053.3,2032.3 L1058.1,2041.5 L1065.5,2067.2 L1072.9,2050.6 L1077.7,2058.9 L1082.5,2050.6 L1087.7,2059.8 L1092.5,2085.0 L1097.3,2068.9 L1102.6,2077.2 L1112.1,2059.8 L1116.9,2076.3 L1121.7,2059.8 L1131.8,2068.9 L1144.0,2087.2 L1166.2,2096.8 L1188.4,2087.2 L1195.4,2050.6 L1202.8,2041.5 L1210.2,1995.3 L1217.6,2011.8 L1225.0,1995.3 L1232.4,2041.5 L1239.8,2050.6 L1247.2,2078.1 L1259.4,2096.8 L1273.8,2087.2 L1283.8,2078.1 L1290.8,2087.2 L1303.0,2078.1 L1315.6,2050.6 L1322.6,2058.9 L1327.8,2050.6 L1332.6,2078.1 L1349.6,2096.8 L1357.0,2078.1 L1367.0,2068.9 L1379.2,2078.1 L1391.4,2059.8 L1396.2,2068.0 L1401.0,2059.8 L1410.6,2077.2 L1415.4,2068.9 L1420.6,2083.7 L1423.7,2068.9 L1423.7,2096.8" fill="none" stroke="#000058" stroke-width="0.7" stroke-linejoin="miter"/>
<path d="M258.8,1958.3 H270.9 V2097.4 H258.8" fill="none" stroke="#555" stroke-width="1.3"/>
<text x="252" y="1961.0" font-size="12" text-anchor="end">12</text>
<text x="252" y="2100.2" font-size="12" text-anchor="end">0</text>
<text x="74" y="2034.0" font-size="23.5">GSM5550305</text>
<path d="M271.1,2250.9 L271.1,2189.2 L276.3,2175.2 L291.1,2112.9 L299.0,2126.4 L303.8,2112.9 L308.6,2143.4 L323.4,2173.0 L328.6,2188.3 L333.4,2173.9 L348.2,2202.7 L355.2,2173.9 L367.4,2188.3 L377.4,2173.9 L382.2,2143.4 L387.0,2172.2 L394.4,2158.7 L401.4,2188.3 L406.6,2143.4 L416.2,2158.7 L426.2,2202.7 L441.0,2173.9 L448.0,2143.4 L455.4,2158.7 L460.2,2173.9 L465.4,2204.4 L472.8,2219.7 L482.9,2204.4 L490.3,2218.8 L495.1,2204.4 L502.5,2234.0 L519.0,2204.4 L539.1,2219.7 L549.1,2250.6 L563.5,2219.7 L568.7,2204.4 L575.7,2218.8 L588.3,2203.5 L597.9,2189.2 L602.7,2219.7 L607.5,2234.9 L619.7,2219.7 L631.9,2235.4 L657.2,2239.3 L710.2,2250.6 L788.6,2235.4 L800.8,2219.7 L813.0,2234.9 L823.0,2204.4 L832.6,2218.8 L844.8,2204.4 L852.2,2173.9 L862.2,2203.5 L866.6,2173.9 L876.6,2143.4 L886.6,2173.9 L891.4,2218.8 L911.0,2158.7 L918.0,2189.2 L930.6,2218.8 L935.4,2204.4 L940.2,2173.9 L947.6,2203.5 L955.0,2219.7 L962.4,2250.6 L972.0,2189.2 L982.0,2173.9 L989.5,2234.0 L994.2,2204.4 L999.0,2217.5 L1003.8,2204.4 L1009.1,2173.9 L1013.9,2201.4 L1018.6,2189.2 L1036.5,2227.5 L1038.9,2234.9 L1060.7,2219.7 L1068.1,2204.4 L1072.9,2173.9 L1082.5,2204.4 L1095.2,2234.0 L1102.6,2219.7 L1107.4,2234.0 L1112.1,2204.4 L1121.7,2189.2 L1133.9,2217.9 L1141.3,2204.4 L1151.4,2173.9 L1161.4,2189.2 L1183.2,2219.7 L1190.6,2234.0 L1202.8,2204.4 L1215.4,2219.7 L1220.2,2234.0 L1239.8,2204.4 L1251.6,2218.8 L1266.4,2204.4 L1276.4,2219.7 L1288.6,2234.9 L1303.0,2219.7 L1313.0,2189.2 L1320.4,2173.9 L1327.8,2143.4 L1332.6,2173.9 L1337.4,2217.9 L1342.2,2204.4 L1347.4,2234.0 L1354.8,2204.4 L1361.8,2217.9 L1367.0,2173.9 L1376.6,2189.2 L1386.7,2234.9 L1391.4,2250.6 L1401.0,2219.7 L1413.2,2189.2 L1423.7,2218.8 L1423.7,2250.6 L1423.7,2250.9 Z" fill="#0000ff" stroke="#0000ff" stroke-width="0.4" stroke-linejoin="miter"/>
<path d="M271.1,2189.2 L276.3,2175.2 L291.1,2112.9 L299.0,2126.4 L303.8,2112.9 L308.6,2143.4 L323.4,2173.0 L328.6,2188.3 L333.4,2173.9 L348.2,2202.7 L355.2,2173.9 L367.4,2188.3 L377.4,2173.9 L382.2,2143.4 L387.0,2172.2 L394.4,2158.7 L401.4,2188.3 L406.6,2143.4 L416.2,2158.7 L426.2,2202.7 L441.0,2173.9 L448.0,2143.4 L455.4,2158.7 L460.2,2173.9 L465.4,2204.4 L472.8,2219.7 L482.9,2204.4 L490.3,2218.8 L495.1,2204.4 L502.5,2234.0 L519.0,2204.4 L539.1,2219.7 L549.1,2250.6 L563.5,2219.7 L568.7,2204.4 L575.7,2218.8 L588.3,2203.5 L597.9,2189.2 L602.7,2219.7 L607.5,2234.9 L619.7,2219.7 L631.9,2235.4 L657.2,2239.3 L710.2,2250.6 L788.6,2235.4 L800.8,2219.7 L813.0,2234.9 L823.0,2204.4 L832.6,2218.8 L844.8,2204.4 L852.2,2173.9 L862.2,2203.5 L866.6,2173.9 L876.6,2143.4 L886.6,2173.9 L891.4,2218.8 L911.0,2158.7 L918.0,2189.2 L930.6,2218.8 L935.4,2204.4 L940.2,2173.9 L947.6,2203.5 L955.0,2219.7 L962.4,2250.6 L972.0,2189.2 L982.0,2173.9 L989.5,2234.0 L994.2,2204.4 L999.0,2217.5 L1003.8,2204.4 L1009.1,2173.9 L1013.9,2201.4 L1018.6,2189.2 L1036.5,2227.5 L1038.9,2234.9 L1060.7,2219.7 L1068.1,2204.4 L1072.9,2173.9 L1082.5,2204.4 L1095.2,2234.0 L1102.6,2219.7 L1107.4,2234.0 L1112.1,2204.4 L1121.7,2189.2 L1133.9,2217.9 L1141.3,2204.4 L1151.4,2173.9 L1161.4,2189.2 L1183.2,2219.7 L1190.6,2234.0 L1202.8,2204.4 L1215.4,2219.7 L1220.2,2234.0 L1239.8,2204.4 L1251.6,2218.8 L1266.4,2204.4 L1276.4,2219.7 L1288.6,2234.9 L1303.0,2219.7 L1313.0,2189.2 L1320.4,2173.9 L1327.8,2143.4 L1332.6,2173.9 L1337.4,2217.9 L1342.2,2204.4 L1347.4,2234.0 L1354.8,2204.4 L1361.8,2217.9 L1367.0,2173.9 L1376.6,2189.2 L1386.7,2234.9 L1391.4,2250.6 L1401.0,2219.7 L1413.2,2189.2 L1423.7,2218.8 L1423.7,2250.6" fill="none" stroke="#000058" stroke-width="0.7" stroke-linejoin="miter"/>
<path d="M258.8,2112.3 H270.9 V2251.4 H258.8" fill="none" stroke="#555" stroke-width="1.3"/>
<text x="252" y="2115.0" font-size="12" text-anchor="end">8</text>
<text x="252" y="2254.2" font-size="12" text-anchor="end">0</text>
<text x="74" y="2188.0" font-size="23.5">GSM5550304</text>
<path d="M275.9,2404.9 L275.9,2391.7 L283.7,2378.6 L291.1,2353.8 L299.0,2341.6 L306.4,2353.8 L313.4,2328.5 L318.6,2291.5 L323.4,2279.3 L333.4,2304.6 L340.8,2328.5 L350.8,2303.7 L357.8,2291.5 L362.6,2279.3 L367.4,2328.5 L374.8,2303.7 L382.2,2328.5 L387.0,2291.5 L401.4,2266.3 L416.2,2303.7 L421.4,2279.3 L426.2,2303.7 L431.0,2316.3 L441.0,2303.7 L451.5,2316.8 L455.4,2353.8 L467.6,2390.8 L487.7,2366.9 L499.9,2390.8 L511.6,2366.9 L529.1,2391.7 L541.3,2379.5 L549.1,2391.7 L573.5,2366.9 L578.3,2378.6 L590.5,2341.6 L597.9,2329.4 L604.9,2341.6 L614.9,2366.4 L624.5,2341.6 L631.9,2303.7 L636.7,2291.5 L651.5,2329.4 L658.7,2341.6 L666.1,2328.5 L670.9,2291.5 L675.7,2279.3 L685.8,2303.7 L690.5,2353.8 L695.3,2369.9 L700.1,2380.8 L705.4,2391.7 L746.8,2404.8 L788.6,2391.7 L793.4,2353.8 L798.2,2316.3 L805.6,2303.7 L818.2,2341.6 L827.8,2328.5 L832.6,2316.3 L837.4,2341.6 L842.2,2353.8 L850.0,2379.5 L862.2,2391.7 L878.8,2404.8 L891.4,2391.7 L901.0,2378.6 L913.2,2353.8 L920.6,2329.4 L925.4,2303.7 L930.6,2341.6 L937.6,2353.8 L945.0,2378.6 L955.0,2353.8 L960.3,2365.6 L965.1,2353.8 L974.6,2378.6 L979.9,2353.8 L986.8,2366.4 L994.2,2353.8 L1003.8,2366.4 L1013.9,2341.6 L1018.6,2353.4 L1023.4,2341.6 L1028.2,2303.7 L1034.3,2316.8 L1041.1,2328.5 L1048.5,2353.8 L1053.3,2365.6 L1058.1,2328.5 L1063.3,2340.7 L1070.8,2316.8 L1080.3,2341.6 L1090.4,2379.5 L1110.0,2404.8 L1121.7,2391.7 L1139.2,2379.5 L1156.2,2391.7 L1171.0,2366.9 L1181.0,2353.8 L1185.8,2377.8 L1190.6,2353.8 L1198.0,2328.5 L1205.4,2316.8 L1215.4,2341.6 L1227.2,2353.8 L1237.2,2378.6 L1249.4,2366.9 L1259.0,2353.8 L1269.0,2366.9 L1278.6,2390.8 L1286.0,2366.9 L1296.0,2379.5 L1308.2,2404.8 L1317.8,2379.5 L1325.2,2366.9 L1332.6,2341.6 L1337.4,2365.6 L1342.2,2377.8 L1347.4,2341.6 L1352.2,2364.7 L1357.0,2353.8 L1367.0,2316.8 L1379.2,2328.5 L1386.7,2340.7 L1391.4,2316.8 L1396.2,2303.7 L1401.0,2316.3 L1406.3,2341.6 L1420.6,2390.8 L1423.7,2378.6 L1423.7,2404.8 L1423.7,2404.9 Z" fill="#0000ff" stroke="#0000ff" stroke-width="0.4" stroke-linejoin="miter"/>
<path d="M275.9,2391.7 L283.7,2378.6 L291.1,2353.8 L299.0,2341.6 L306.4,2353.8 L313.4,2328.5 L318.6,2291.5 L323.4,2279.3 L333.4,2304.6 L340.8,2328.5 L350.8,2303.7 L357.8,2291.5 L362.6,2279.3 L367.4,2328.5 L374.8,2303.7 L382.2,2328.5 L387.0,2291.5 L401.4,2266.3 L416.2,2303.7 L421.4,2279.3 L426.2,2303.7 L431.0,2316.3 L441.0,2303.7 L451.5,2316.8 L455.4,2353.8 L467.6,2390.8 L487.7,2366.9 L499.9,2390.8 L511.6,2366.9 L529.1,2391.7 L541.3,2379.5 L549.1,2391.7 L573.5,2366.9 L578.3,2378.6 L590.5,2341.6 L597.9,2329.4 L604.9,2341.6 L614.9,2366.4 L624.5,2341.6 L631.9,2303.7 L636.7,2291.5 L651.5,2329.4 L658.7,2341.6 L666.1,2328.5 L670.9,2291.5 L675.7,2279.3 L685.8,2303.7 L690.5,2353.8 L695.3,2369.9 L700.1,2380.8 L705.4,2391.7 L746.8,2404.8 L788.6,2391.7 L793.4,2353.8 L798.2,2316.3 L805.6,2303.7 L818.2,2341.6 L827.8,2328.5 L832.6,2316.3 L837.4,2341.6 L842.2,2353.8 L850.0,2379.5 L862.2,2391.7 L878.8,2404.8 L891.4,2391.7 L901.0,2378.6 L913.2,2353.8 L920.6,2329.4 L925.4,2303.7 L930.6,2341.6 L937.6,2353.8 L945.0,2378.6 L955.0,2353.8 L960.3,2365.6 L965.1,2353.8 L974.6,2378.6 L979.9,2353.8 L986.8,2366.4 L994.2,2353.8 L1003.8,2366.4 L1013.9,2341.6 L1018.6,2353.4 L1023.4,2341.6 L1028.2,2303.7 L1034.3,2316.8 L1041.1,2328.5 L1048.5,2353.8 L1053.3,2365.6 L1058.1,2328.5 L1063.3,2340.7 L1070.8,2316.8 L1080.3,2341.6 L1090.4,2379.5 L1110.0,2404.8 L1121.7,2391.7 L1139.2,2379.5 L1156.2,2391.7 L1171.0,2366.9 L1181.0,2353.8 L1185.8,2377.8 L1190.6,2353.8 L1198.0,2328.5 L1205.4,2316.8 L1215.4,2341.6 L1227.2,2353.8 L1237.2,2378.6 L1249.4,2366.9 L1259.0,2353.8 L1269.0,2366.9 L1278.6,2390.8 L1286.0,2366.9 L1296.0,2379.5 L1308.2,2404.8 L1317.8,2379.5 L1325.2,2366.9 L1332.6,2341.6 L1337.4,2365.6 L1342.2,2377.8 L1347.4,2341.6 L1352.2,2364.7 L1357.0,2353.8 L1367.0,2316.8 L1379.2,2328.5 L1386.7,2340.7 L1391.4,2316.8 L1396.2,2303.7 L1401.0,2316.3 L1406.3,2341.6 L1420.6,2390.8 L1423.7,2378.6 L1423.7,2404.8" fill="none" stroke="#000058" stroke-width="0.7" stroke-linejoin="miter"/>
<path d="M258.8,2266.3 H270.9 V2405.4 H258.8" fill="none" stroke="#555" stroke-width="1.3"/>
<text x="252" y="2269.0" font-size="12" text-anchor="end">7</text>
<text x="252" y="2408.2" font-size="12" text-anchor="end">0</text>
<text x="74" y="2342.0" font-size="23.5">GSM5550303</text>
<path d="M273.7,2558.9 L273.7,2507.2 L278.9,2488.9 L289.0,2505.9 L299.0,2497.6 L308.6,2507.2 L321.2,2549.5 L333.4,2533.3 L343.4,2515.9 L348.2,2481.0 L353.0,2488.5 L357.8,2472.3 L362.6,2463.6 L367.4,2471.5 L372.6,2437.5 L382.2,2420.9 L391.8,2437.5 L396.6,2463.6 L401.4,2480.2 L408.8,2488.9 L418.8,2506.3 L426.2,2488.9 L431.0,2515.0 L438.4,2507.2 L448.0,2515.0 L460.2,2532.0 L475.0,2515.9 L485.0,2489.8 L490.3,2505.9 L495.1,2497.6 L499.9,2507.2 L504.7,2541.2 L533.8,2558.6 L543.9,2541.2 L558.7,2532.5 L568.7,2515.0 L573.5,2497.6 L578.3,2505.9 L583.1,2489.8 L600.5,2515.0 L612.3,2498.5 L617.1,2480.2 L622.3,2496.3 L631.9,2463.6 L636.7,2487.6 L646.7,2472.3 L653.7,2488.9 L660.9,2497.6 L666.1,2523.7 L673.6,2541.2 L681.0,2523.7 L687.9,2532.0 L695.3,2523.7 L705.4,2542.0 L710.2,2548.6 L714.9,2558.6 L720.2,2533.3 L727.1,2507.2 L734.6,2446.2 L744.6,2462.7 L749.4,2446.2 L754.2,2505.9 L759.0,2497.6 L764.2,2506.3 L769.0,2522.4 L773.8,2506.3 L781.2,2522.4 L788.6,2506.3 L796.0,2518.1 L808.2,2532.0 L813.0,2506.3 L818.2,2488.9 L823.0,2481.0 L827.8,2488.9 L832.6,2505.9 L837.4,2515.9 L842.2,2531.2 L847.0,2523.7 L852.2,2542.0 L866.6,2558.6 L881.4,2541.2 L888.8,2515.0 L898.8,2507.2 L913.2,2523.7 L925.4,2532.0 L940.2,2541.2 L965.1,2549.5 L986.8,2541.2 L999.0,2549.5 L1003.8,2541.2 L1009.1,2523.7 L1016.0,2515.9 L1023.4,2523.7 L1028.2,2532.0 L1033.0,2523.7 L1033.7,2523.7 L1038.9,2531.2 L1045.9,2507.2 L1053.3,2522.4 L1058.1,2507.2 L1068.1,2523.7 L1072.9,2515.9 L1077.7,2523.7 L1085.1,2532.0 L1092.5,2507.2 L1097.3,2515.0 L1107.4,2498.5 L1112.1,2532.0 L1116.9,2515.9 L1121.7,2523.7 L1127.0,2515.0 L1133.9,2507.2 L1149.2,2515.0 L1161.4,2498.5 L1166.2,2506.3 L1181.0,2523.7 L1185.8,2532.0 L1190.6,2523.7 L1200.6,2541.2 L1208.0,2515.9 L1215.4,2507.2 L1220.2,2498.5 L1227.2,2523.7 L1247.2,2542.0 L1259.0,2549.5 L1263.8,2533.3 L1269.0,2541.2 L1278.6,2523.7 L1283.8,2532.0 L1290.8,2523.7 L1298.2,2532.0 L1305.6,2522.4 L1317.8,2507.2 L1327.8,2541.2 L1337.4,2549.5 L1354.8,2533.3 L1369.7,2541.2 L1379.2,2549.5 L1394.1,2539.9 L1401.0,2533.3 L1406.3,2541.2 L1423.7,2523.7 L1423.7,2558.6 L1423.7,2558.9 Z" fill="#0000ff" stroke="#0000ff" stroke-width="0.4" stroke-linejoin="miter"/>
<path d="M273.7,2507.2 L278.9,2488.9 L289.0,2505.9 L299.0,2497.6 L308.6,2507.2 L321.2,2549.5 L333.4,2533.3 L343.4,2515.9 L348.2,2481.0 L353.0,2488.5 L357.8,2472.3 L362.6,2463.6 L367.4,2471.5 L372.6,2437.5 L382.2,2420.9 L391.8,2437.5 L396.6,2463.6 L401.4,2480.2 L408.8,2488.9 L418.8,2506.3 L426.2,2488.9 L431.0,2515.0 L438.4,2507.2 L448.0,2515.0 L460.2,2532.0 L475.0,2515.9 L485.0,2489.8 L490.3,2505.9 L495.1,2497.6 L499.9,2507.2 L504.7,2541.2 L533.8,2558.6 L543.9,2541.2 L558.7,2532.5 L568.7,2515.0 L573.5,2497.6 L578.3,2505.9 L583.1,2489.8 L600.5,2515.0 L612.3,2498.5 L617.1,2480.2 L622.3,2496.3 L631.9,2463.6 L636.7,2487.6 L646.7,2472.3 L653.7,2488.9 L660.9,2497.6 L666.1,2523.7 L673.6,2541.2 L681.0,2523.7 L687.9,2532.0 L695.3,2523.7 L705.4,2542.0 L710.2,2548.6 L714.9,2558.6 L720.2,2533.3 L727.1,2507.2 L734.6,2446.2 L744.6,2462.7 L749.4,2446.2 L754.2,2505.9 L759.0,2497.6 L764.2,2506.3 L769.0,2522.4 L773.8,2506.3 L781.2,2522.4 L788.6,2506.3 L796.0,2518.1 L808.2,2532.0 L813.0,2506.3 L818.2,2488.9 L823.0,2481.0 L827.8,2488.9 L832.6,2505.9 L837.4,2515.9 L842.2,2531.2 L847.0,2523.7 L852.2,2542.0 L866.6,2558.6 L881.4,2541.2 L888.8,2515.0 L898.8,2507.2 L913.2,2523.7 L925.4,2532.0 L940.2,2541.2 L965.1,2549.5 L986.8,2541.2 L999.0,2549.5 L1003.8,2541.2 L1009.1,2523.7 L1016.0,2515.9 L1023.4,2523.7 L1028.2,2532.0 L1033.0,2523.7 L1033.7,2523.7 L1038.9,2531.2 L1045.9,2507.2 L1053.3,2522.4 L1058.1,2507.2 L1068.1,2523.7 L1072.9,2515.9 L1077.7,2523.7 L1085.1,2532.0 L1092.5,2507.2 L1097.3,2515.0 L1107.4,2498.5 L1112.1,2532.0 L1116.9,2515.9 L1121.7,2523.7 L1127.0,2515.0 L1133.9,2507.2 L1149.2,2515.0 L1161.4,2498.5 L1166.2,2506.3 L1181.0,2523.7 L1185.8,2532.0 L1190.6,2523.7 L1200.6,2541.2 L1208.0,2515.9 L1215.4,2507.2 L1220.2,2498.5 L1227.2,2523.7 L1247.2,2542.0 L1259.0,2549.5 L1263.8,2533.3 L1269.0,2541.2 L1278.6,2523.7 L1283.8,2532.0 L1290.8,2523.7 L1298.2,2532.0 L1305.6,2522.4 L1317.8,2507.2 L1327.8,2541.2 L1337.4,2549.5 L1354.8,2533.3 L1369.7,2541.2 L1379.2,2549.5 L1394.1,2539.9 L1401.0,2533.3 L1406.3,2541.2 L1423.7,2523.7 L1423.7,2558.6" fill="none" stroke="#000058" stroke-width="0.7" stroke-linejoin="miter"/>
<path d="M258.8,2420.3 H270.9 V2559.4 H258.8" fill="none" stroke="#555" stroke-width="1.3"/>
<text x="252" y="2423.0" font-size="12" text-anchor="end">11</text>
<text x="252" y="2562.2" font-size="12" text-anchor="end">0</text>
<text x="74" y="2496.0" font-size="23.5">GSM5550302</text>
<path d="M273.7,2712.9 L273.7,2712.8 L278.9,2699.7 L283.7,2674.9 L289.0,2661.8 L293.8,2624.8 L299.0,2611.7 L306.4,2624.3 L313.4,2611.7 L321.2,2624.3 L328.6,2611.7 L333.4,2636.5 L338.2,2649.6 L348.2,2624.3 L353.0,2634.4 L360.0,2574.3 L370.0,2587.3 L377.4,2611.7 L387.0,2635.7 L391.8,2611.7 L396.6,2624.3 L404.0,2611.7 L411.4,2647.4 L418.8,2611.7 L426.2,2623.5 L431.0,2611.7 L436.2,2636.5 L441.0,2649.6 L445.8,2637.4 L450.6,2611.7 L460.2,2649.6 L470.2,2674.9 L480.3,2661.8 L490.3,2674.9 L495.1,2686.6 L499.9,2674.9 L507.3,2685.8 L514.2,2649.6 L519.0,2673.6 L526.4,2649.6 L536.5,2687.5 L546.5,2699.7 L556.5,2687.5 L563.5,2699.7 L570.9,2686.6 L578.3,2649.6 L588.3,2637.4 L597.9,2674.4 L602.7,2661.8 L607.5,2673.6 L617.1,2649.6 L622.3,2673.6 L636.7,2636.5 L641.9,2611.7 L646.7,2599.5 L657.2,2611.7 L666.1,2624.3 L675.7,2674.9 L685.8,2698.8 L692.7,2687.5 L702.7,2699.7 L710.2,2712.8 L725.0,2674.9 L729.3,2649.6 L739.3,2673.6 L761.6,2637.4 L769.0,2649.6 L778.6,2674.9 L783.8,2699.7 L790.8,2712.8 L798.2,2699.7 L803.4,2661.8 L808.2,2636.5 L818.2,2611.7 L825.2,2674.9 L832.6,2686.6 L837.4,2698.8 L842.2,2661.8 L852.2,2624.8 L862.2,2661.8 L866.6,2698.4 L871.8,2687.5 L876.6,2698.8 L884.0,2687.5 L893.6,2699.7 L901.0,2712.8 L911.0,2687.5 L915.8,2649.6 L920.6,2637.4 L932.8,2649.6 L945.0,2624.8 L950.2,2636.5 L957.2,2624.8 L965.1,2636.5 L969.8,2624.8 L974.6,2647.4 L979.9,2637.4 L986.8,2649.6 L994.2,2661.8 L1003.8,2686.6 L1016.0,2699.7 L1023.4,2687.5 L1033.0,2674.9 L1033.7,2674.9 L1043.3,2686.6 L1063.3,2661.8 L1070.8,2649.6 L1080.3,2637.4 L1087.7,2661.8 L1097.3,2673.6 L1112.1,2637.4 L1116.9,2648.7 L1124.3,2661.4 L1131.8,2649.6 L1136.5,2611.7 L1141.3,2599.5 L1146.6,2636.5 L1151.4,2649.6 L1158.8,2686.6 L1166.2,2674.9 L1175.8,2599.5 L1181.0,2587.3 L1185.8,2599.5 L1190.6,2635.2 L1195.4,2624.8 L1200.6,2647.4 L1208.0,2624.8 L1215.4,2647.4 L1220.2,2637.4 L1225.0,2661.8 L1229.8,2673.6 L1235.0,2661.8 L1239.8,2673.6 L1247.2,2649.6 L1263.8,2712.8 L1269.0,2699.7 L1273.8,2674.9 L1278.6,2661.8 L1288.6,2611.7 L1298.2,2636.5 L1310.4,2674.9 L1332.6,2712.8 L1347.4,2699.7 L1352.2,2687.5 L1359.6,2674.9 L1367.0,2687.5 L1377.1,2712.8 L1391.4,2674.9 L1398.9,2661.8 L1406.3,2674.9 L1420.6,2712.8 L1420.6,2712.9 Z" fill="#0000ff" stroke="#0000ff" stroke-width="0.4" stroke-linejoin="miter"/>
<path d="M273.7,2712.8 L278.9,2699.7 L283.7,2674.9 L289.0,2661.8 L293.8,2624.8 L299.0,2611.7 L306.4,2624.3 L313.4,2611.7 L321.2,2624.3 L328.6,2611.7 L333.4,2636.5 L338.2,2649.6 L348.2,2624.3 L353.0,2634.4 L360.0,2574.3 L370.0,2587.3 L377.4,2611.7 L387.0,2635.7 L391.8,2611.7 L396.6,2624.3 L404.0,2611.7 L411.4,2647.4 L418.8,2611.7 L426.2,2623.5 L431.0,2611.7 L436.2,2636.5 L441.0,2649.6 L445.8,2637.4 L450.6,2611.7 L460.2,2649.6 L470.2,2674.9 L480.3,2661.8 L490.3,2674.9 L495.1,2686.6 L499.9,2674.9 L507.3,2685.8 L514.2,2649.6 L519.0,2673.6 L526.4,2649.6 L536.5,2687.5 L546.5,2699.7 L556.5,2687.5 L563.5,2699.7 L570.9,2686.6 L578.3,2649.6 L588.3,2637.4 L597.9,2674.4 L602.7,2661.8 L607.5,2673.6 L617.1,2649.6 L622.3,2673.6 L636.7,2636.5 L641.9,2611.7 L646.7,2599.5 L657.2,2611.7 L666.1,2624.3 L675.7,2674.9 L685.8,2698.8 L692.7,2687.5 L702.7,2699.7 L710.2,2712.8 L725.0,2674.9 L729.3,2649.6 L739.3,2673.6 L761.6,2637.4 L769.0,2649.6 L778.6,2674.9 L783.8,2699.7 L790.8,2712.8 L798.2,2699.7 L803.4,2661.8 L808.2,2636.5 L818.2,2611.7 L825.2,2674.9 L832.6,2686.6 L837.4,2698.8 L842.2,2661.8 L852.2,2624.8 L862.2,2661.8 L866.6,2698.4 L871.8,2687.5 L876.6,2698.8 L884.0,2687.5 L893.6,2699.7 L901.0,2712.8 L911.0,2687.5 L915.8,2649.6 L920.6,2637.4 L932.8,2649.6 L945.0,2624.8 L950.2,2636.5 L957.2,2624.8 L965.1,2636.5 L969.8,2624.8 L974.6,2647.4 L979.9,2637.4 L986.8,2649.6 L994.2,2661.8 L1003.8,2686.6 L1016.0,2699.7 L1023.4,2687.5 L1033.0,2674.9 L1033.7,2674.9 L1043.3,2686.6 L1063.3,2661.8 L1070.8,2649.6 L1080.3,2637.4 L1087.7,2661.8 L1097.3,2673.6 L1112.1,2637.4 L1116.9,2648.7 L1124.3,2661.4 L1131.8,2649.6 L1136.5,2611.7 L1141.3,2599.5 L1146.6,2636.5 L1151.4,2649.6 L1158.8,2686.6 L1166.2,2674.9 L1175.8,2599.5 L1181.0,2587.3 L1185.8,2599.5 L1190.6,2635.2 L1195.4,2624.8 L1200.6,2647.4 L1208.0,2624.8 L1215.4,2647.4 L1220.2,2637.4 L1225.0,2661.8 L1229.8,2673.6 L1235.0,2661.8 L1239.8,2673.6 L1247.2,2649.6 L1263.8,2712.8 L1269.0,2699.7 L1273.8,2674.9 L1278.6,2661.8 L1288.6,2611.7 L1298.2,2636.5 L1310.4,2674.9 L1332.6,2712.8 L1347.4,2699.7 L1352.2,2687.5 L1359.6,2674.9 L1367.0,2687.5 L1377.1,2712.8 L1391.4,2674.9 L1398.9,2661.8 L1406.3,2674.9 L1420.6,2712.8" fill="none" stroke="#000058" stroke-width="0.7" stroke-linejoin="miter"/>
<path d="M258.8,2574.3 H270.9 V2713.4 H258.8" fill="none" stroke="#555" stroke-width="1.3"/>
<text x="252" y="2577.0" font-size="12" text-anchor="end">8</text>
<text x="252" y="2716.2" font-size="12" text-anchor="end">0</text>
<text x="74" y="2650.0" font-size="23.5">GSM5550301</text>
<path d="M275.9,2866.9 L275.9,2789.9 L283.7,2804.3 L291.1,2789.9 L299.0,2804.3 L303.8,2774.7 L311.2,2789.0 L321.2,2759.4 L333.4,2773.8 L343.4,2789.0 L348.2,2773.8 L353.0,2743.3 L360.0,2789.9 L367.4,2805.6 L374.8,2850.0 L394.4,2789.9 L401.4,2834.8 L406.6,2789.9 L411.4,2819.5 L416.2,2789.9 L423.6,2774.7 L431.0,2728.9 L441.0,2759.4 L445.8,2820.4 L452.8,2834.8 L460.2,2805.6 L467.6,2820.4 L477.6,2835.7 L490.3,2820.4 L504.7,2866.6 L511.6,2850.9 L521.6,2835.7 L529.1,2850.9 L541.3,2835.7 L551.3,2850.0 L561.3,2866.6 L568.7,2850.9 L578.3,2835.7 L590.5,2850.9 L597.9,2835.7 L602.7,2820.4 L610.1,2805.2 L634.5,2835.7 L641.9,2820.4 L646.7,2805.6 L653.7,2774.7 L660.9,2804.3 L666.1,2818.7 L673.6,2789.0 L683.1,2759.4 L695.3,2805.2 L710.2,2820.4 L720.2,2850.0 L725.0,2820.4 L729.3,2833.9 L739.3,2805.6 L744.6,2834.8 L759.0,2820.4 L778.6,2835.7 L796.0,2820.4 L808.2,2834.8 L813.0,2820.4 L818.2,2833.9 L837.4,2805.6 L842.2,2818.7 L847.0,2789.9 L852.2,2774.7 L857.0,2789.0 L864.4,2759.4 L871.8,2772.5 L876.6,2744.2 L884.0,2757.2 L891.4,2728.9 L896.2,2740.2 L901.0,2728.9 L905.8,2759.4 L913.2,2805.2 L923.2,2834.8 L930.6,2850.9 L937.6,2835.7 L947.6,2820.4 L955.0,2850.0 L962.4,2820.4 L974.6,2789.9 L982.0,2806.5 L994.2,2835.7 L999.0,2850.0 L1003.8,2820.4 L1009.1,2833.9 L1018.6,2805.6 L1030.4,2833.5 L1031.5,2833.9 L1045.9,2789.9 L1055.9,2805.6 L1068.1,2851.4 L1082.5,2866.6 L1092.5,2850.9 L1097.3,2834.8 L1103.4,2820.4 L1114.3,2789.9 L1121.7,2802.1 L1127.0,2743.3 L1133.9,2787.7 L1141.3,2774.7 L1146.6,2833.9 L1161.4,2805.6 L1175.8,2789.9 L1190.6,2805.2 L1195.4,2818.7 L1200.6,2805.2 L1208.0,2789.0 L1215.4,2759.4 L1225.0,2787.7 L1229.8,2774.7 L1235.0,2788.2 L1244.6,2818.7 L1249.4,2774.7 L1256.8,2789.0 L1263.8,2774.7 L1271.6,2805.6 L1281.2,2820.4 L1288.6,2833.9 L1298.2,2805.6 L1313.0,2851.4 L1330.0,2866.6 L1354.8,2820.4 L1364.9,2805.2 L1371.8,2789.9 L1377.1,2774.7 L1381.9,2789.9 L1386.7,2818.7 L1391.4,2805.6 L1401.0,2820.4 L1416.3,2866.6 L1416.3,2866.9 Z" fill="#0000ff" stroke="#0000ff" stroke-width="0.4" stroke-linejoin="miter"/>
<path d="M275.9,2789.9 L283.7,2804.3 L291.1,2789.9 L299.0,2804.3 L303.8,2774.7 L311.2,2789.0 L321.2,2759.4 L333.4,2773.8 L343.4,2789.0 L348.2,2773.8 L353.0,2743.3 L360.0,2789.9 L367.4,2805.6 L374.8,2850.0 L394.4,2789.9 L401.4,2834.8 L406.6,2789.9 L411.4,2819.5 L416.2,2789.9 L423.6,2774.7 L431.0,2728.9 L441.0,2759.4 L445.8,2820.4 L452.8,2834.8 L460.2,2805.6 L467.6,2820.4 L477.6,2835.7 L490.3,2820.4 L504.7,2866.6 L511.6,2850.9 L521.6,2835.7 L529.1,2850.9 L541.3,2835.7 L551.3,2850.0 L561.3,2866.6 L568.7,2850.9 L578.3,2835.7 L590.5,2850.9 L597.9,2835.7 L602.7,2820.4 L610.1,2805.2 L634.5,2835.7 L641.9,2820.4 L646.7,2805.6 L653.7,2774.7 L660.9,2804.3 L666.1,2818.7 L673.6,2789.0 L683.1,2759.4 L695.3,2805.2 L710.2,2820.4 L720.2,2850.0 L725.0,2820.4 L729.3,2833.9 L739.3,2805.6 L744.6,2834.8 L759.0,2820.4 L778.6,2835.7 L796.0,2820.4 L808.2,2834.8 L813.0,2820.4 L818.2,2833.9 L837.4,2805.6 L842.2,2818.7 L847.0,2789.9 L852.2,2774.7 L857.0,2789.0 L864.4,2759.4 L871.8,2772.5 L876.6,2744.2 L884.0,2757.2 L891.4,2728.9 L896.2,2740.2 L901.0,2728.9 L905.8,2759.4 L913.2,2805.2 L923.2,2834.8 L930.6,2850.9 L937.6,2835.7 L947.6,2820.4 L955.0,2850.0 L962.4,2820.4 L974.6,2789.9 L982.0,2806.5 L994.2,2835.7 L999.0,2850.0 L1003.8,2820.4 L1009.1,2833.9 L1018.6,2805.6 L1030.4,2833.5 L1031.5,2833.9 L1045.9,2789.9 L1055.9,2805.6 L1068.1,2851.4 L1082.5,2866.6 L1092.5,2850.9 L1097.3,2834.8 L1103.4,2820.4 L1114.3,2789.9 L1121.7,2802.1 L1127.0,2743.3 L1133.9,2787.7 L1141.3,2774.7 L1146.6,2833.9 L1161.4,2805.6 L1175.8,2789.9 L1190.6,2805.2 L1195.4,2818.7 L1200.6,2805.2 L1208.0,2789.0 L1215.4,2759.4 L1225.0,2787.7 L1229.8,2774.7 L1235.0,2788.2 L1244.6,2818.7 L1249.4,2774.7 L1256.8,2789.0 L1263.8,2774.7 L1271.6,2805.6 L1281.2,2820.4 L1288.6,2833.9 L1298.2,2805.6 L1313.0,2851.4 L1330.0,2866.6 L1354.8,2820.4 L1364.9,2805.2 L1371.8,2789.9 L1377.1,2774.7 L1381.9,2789.9 L1386.7,2818.7 L1391.4,2805.6 L1401.0,2820.4 L1416.3,2866.6" fill="none" stroke="#000058" stroke-width="0.7" stroke-linejoin="miter"/>
<path d="M258.8,2728.3 H270.9 V2867.4 H258.8" fill="none" stroke="#555" stroke-width="1.3"/>
<text x="252" y="2731.0" font-size="12" text-anchor="end">6</text>
<text x="252" y="2870.2" font-size="12" text-anchor="end">0</text>
<text x="74" y="2804.0" font-size="23.5">GSM5550300</text>
<path d="M271.1,3020.9 L271.1,2982.9 L278.9,3006.8 L289.0,2982.9 L296.4,2969.8 L303.8,2982.4 L313.4,2969.8 L343.4,3007.7 L362.6,2995.5 L367.4,2982.9 L374.8,2995.5 L384.8,3007.7 L404.0,2982.9 L416.2,2995.5 L426.2,3007.7 L438.4,2982.9 L450.6,2995.5 L480.3,2969.8 L485.0,2957.6 L495.1,2982.9 L499.9,3007.7 L504.7,3020.8 L511.6,2969.8 L519.0,2919.7 L524.3,2907.5 L529.1,2919.7 L536.5,2931.5 L543.9,2907.5 L549.1,2917.1 L553.9,2895.3 L563.5,2942.4 L568.7,2919.7 L573.5,2957.6 L580.9,2969.8 L592.7,3006.8 L607.5,2994.6 L617.1,2969.8 L622.3,2981.6 L629.3,2969.8 L644.1,2982.4 L656.3,2994.6 L666.1,2981.6 L673.6,2969.8 L681.0,2995.5 L695.3,3007.7 L717.6,3020.8 L746.8,2995.5 L759.0,3007.7 L771.2,2982.9 L788.6,2994.6 L798.2,2969.8 L805.6,2982.4 L813.0,2969.8 L820.4,2993.8 L827.8,2969.8 L837.4,2982.9 L847.0,3020.8 L857.0,2994.6 L864.4,2969.8 L871.8,2981.6 L876.6,2969.8 L881.8,2994.6 L888.8,2982.9 L896.2,2994.6 L905.8,2981.6 L913.2,2969.8 L920.6,2981.6 L925.4,2969.8 L930.6,2981.6 L937.6,2969.8 L947.6,2994.6 L960.3,2982.9 L969.8,3006.8 L979.9,2995.5 L992.1,3007.7 L999.0,2995.5 L1011.2,2982.9 L1023.4,2994.6 L1033.0,2969.8 L1041.1,2981.6 L1053.3,2955.4 L1063.3,2919.7 L1072.9,2944.5 L1087.7,2956.7 L1097.3,2944.5 L1102.6,2882.3 L1107.4,2894.4 L1116.9,2944.5 L1121.7,2980.7 L1136.5,2945.4 L1141.3,2969.8 L1146.6,2982.9 L1151.4,3020.8 L1156.2,3007.7 L1166.2,2995.5 L1175.8,3006.8 L1181.0,2994.6 L1188.4,2982.9 L1200.6,2969.8 L1210.2,2932.8 L1225.0,2969.8 L1235.0,3006.8 L1244.6,2994.6 L1259.0,2957.6 L1273.8,2982.9 L1278.6,2993.8 L1283.8,2982.9 L1298.2,3006.8 L1303.0,2982.9 L1310.4,2957.6 L1317.8,2945.4 L1322.6,2981.6 L1327.8,2993.8 L1337.4,2945.4 L1347.4,2919.7 L1352.2,2969.8 L1357.0,2981.6 L1361.8,2969.8 L1367.0,2993.3 L1377.1,2969.8 L1391.4,3007.7 L1398.9,3019.9 L1406.3,2995.5 L1415.4,2969.8 L1423.7,2982.9 L1423.7,3020.8 L1423.7,3020.9 Z" fill="#0000ff" stroke="#0000ff" stroke-width="0.4" stroke-linejoin="miter"/>
<path d="M271.1,2982.9 L278.9,3006.8 L289.0,2982.9 L296.4,2969.8 L303.8,2982.4 L313.4,2969.8 L343.4,3007.7 L362.6,2995.5 L367.4,2982.9 L374.8,2995.5 L384.8,3007.7 L404.0,2982.9 L416.2,2995.5 L426.2,3007.7 L438.4,2982.9 L450.6,2995.5 L480.3,2969.8 L485.0,2957.6 L495.1,2982.9 L499.9,3007.7 L504.7,3020.8 L511.6,2969.8 L519.0,2919.7 L524.3,2907.5 L529.1,2919.7 L536.5,2931.5 L543.9,2907.5 L549.1,2917.1 L553.9,2895.3 L563.5,2942.4 L568.7,2919.7 L573.5,2957.6 L580.9,2969.8 L592.7,3006.8 L607.5,2994.6 L617.1,2969.8 L622.3,2981.6 L629.3,2969.8 L644.1,2982.4 L656.3,2994.6 L666.1,2981.6 L673.6,2969.8 L681.0,2995.5 L695.3,3007.7 L717.6,3020.8 L746.8,2995.5 L759.0,3007.7 L771.2,2982.9 L788.6,2994.6 L798.2,2969.8 L805.6,2982.4 L813.0,2969.8 L820.4,2993.8 L827.8,2969.8 L837.4,2982.9 L847.0,3020.8 L857.0,2994.6 L864.4,2969.8 L871.8,2981.6 L876.6,2969.8 L881.8,2994.6 L888.8,2982.9 L896.2,2994.6 L905.8,2981.6 L913.2,2969.8 L920.6,2981.6 L925.4,2969.8 L930.6,2981.6 L937.6,2969.8 L947.6,2994.6 L960.3,2982.9 L969.8,3006.8 L979.9,2995.5 L992.1,3007.7 L999.0,2995.5 L1011.2,2982.9 L1023.4,2994.6 L1033.0,2969.8 L1041.1,2981.6 L1053.3,2955.4 L1063.3,2919.7 L1072.9,2944.5 L1087.7,2956.7 L1097.3,2944.5 L1102.6,2882.3 L1107.4,2894.4 L1116.9,2944.5 L1121.7,2980.7 L1136.5,2945.4 L1141.3,2969.8 L1146.6,2982.9 L1151.4,3020.8 L1156.2,3007.7 L1166.2,2995.5 L1175.8,3006.8 L1181.0,2994.6 L1188.4,2982.9 L1200.6,2969.8 L1210.2,2932.8 L1225.0,2969.8 L1235.0,3006.8 L1244.6,2994.6 L1259.0,2957.6 L1273.8,2982.9 L1278.6,2993.8 L1283.8,2982.9 L1298.2,3006.8 L1303.0,2982.9 L1310.4,2957.6 L1317.8,2945.4 L1322.6,2981.6 L1327.8,2993.8 L1337.4,2945.4 L1347.4,2919.7 L1352.2,2969.8 L1357.0,2981.6 L1361.8,2969.8 L1367.0,2993.3 L1377.1,2969.8 L1391.4,3007.7 L1398.9,3019.9 L1406.3,2995.5 L1415.4,2969.8 L1423.7,2982.9 L1423.7,3020.8" fill="none" stroke="#000058" stroke-width="0.7" stroke-linejoin="miter"/>
<path d="M258.8,2882.3 H270.9 V3021.4 H258.8" fill="none" stroke="#555" stroke-width="1.3"/>
<text x="252" y="2885.0" font-size="12" text-anchor="end">8</text>
<text x="252" y="3024.2" font-size="12" text-anchor="end">0</text>
<text x="74" y="2958.0" font-size="23.5">GSM5550299</text>
<path d="M271.1,3174.9 L271.1,3131.9 L274.6,3109.2 L281.1,3116.7 L291.1,3133.2 L299.0,3110.1 L313.4,3125.4 L318.6,3133.2 L323.4,3125.4 L328.6,3110.1 L343.4,3158.0 L350.8,3165.5 L356.9,3151.5 L362.6,3134.1 L374.8,3143.7 L384.8,3150.2 L391.8,3134.1 L399.2,3142.8 L408.8,3150.2 L421.4,3134.1 L431.0,3101.4 L436.2,3077.4 L443.2,3091.8 L450.6,3052.6 L455.4,3084.0 L460.2,3077.4 L465.4,3036.9 L470.2,3091.8 L475.0,3077.4 L480.3,3093.6 L485.0,3115.8 L490.3,3109.2 L495.1,3115.8 L499.9,3101.4 L504.7,3093.6 L509.4,3107.9 L514.2,3101.4 L519.0,3107.9 L524.3,3124.5 L529.1,3093.6 L539.1,3107.9 L543.9,3077.4 L551.3,3114.5 L558.7,3093.6 L563.5,3124.5 L568.7,3093.6 L575.7,3100.5 L583.1,3093.6 L588.3,3115.8 L592.7,3110.1 L612.3,3133.2 L622.3,3093.6 L631.9,3101.4 L636.7,3131.9 L651.5,3107.9 L656.3,3093.6 L663.5,3100.5 L670.9,3085.3 L675.7,3092.7 L685.8,3077.4 L695.3,3101.4 L707.5,3116.7 L714.9,3133.2 L722.4,3125.4 L729.3,3133.2 L734.6,3117.5 L739.8,3140.6 L744.6,3134.1 L749.4,3101.4 L759.0,3093.6 L769.0,3117.5 L773.8,3139.7 L778.6,3109.2 L783.8,3116.7 L790.8,3109.2 L798.2,3124.5 L803.4,3117.5 L808.2,3124.5 L813.0,3093.6 L818.2,3068.7 L823.0,3077.4 L827.8,3060.9 L832.6,3085.3 L837.4,3092.7 L842.2,3077.4 L850.0,3085.3 L857.0,3101.4 L862.2,3117.5 L866.6,3125.4 L871.8,3117.5 L878.8,3109.2 L886.6,3116.7 L891.4,3109.2 L903.6,3101.4 L915.8,3109.2 L920.6,3101.4 L925.4,3077.4 L930.6,3068.7 L935.4,3085.3 L940.2,3093.6 L945.0,3109.2 L965.1,3140.6 L969.8,3109.2 L974.6,3116.7 L984.7,3085.3 L989.5,3077.4 L994.2,3044.8 L1001.7,3060.0 L1009.1,3044.8 L1013.9,3051.3 L1018.6,3044.8 L1023.4,3068.7 L1028.2,3123.2 L1034.3,3109.2 L1036.3,3109.2 L1043.3,3101.4 L1048.5,3060.9 L1053.3,3077.4 L1060.7,3085.3 L1068.1,3107.9 L1072.9,3093.6 L1080.3,3085.3 L1090.4,3092.7 L1097.3,3077.4 L1102.6,3084.0 L1107.4,3077.4 L1116.9,3101.4 L1127.0,3116.7 L1131.8,3109.2 L1136.5,3124.5 L1144.0,3109.2 L1151.4,3101.4 L1156.2,3093.6 L1161.4,3115.8 L1166.2,3101.4 L1173.6,3115.8 L1181.0,3101.4 L1185.8,3123.2 L1190.6,3101.4 L1195.4,3115.8 L1202.8,3101.4 L1212.8,3116.7 L1220.2,3109.2 L1225.0,3085.3 L1244.6,3100.5 L1249.4,3077.4 L1254.6,3068.7 L1261.6,3060.9 L1269.0,3044.8 L1273.8,3068.7 L1278.6,3077.4 L1283.8,3093.6 L1288.6,3125.4 L1293.4,3093.6 L1298.2,3100.5 L1303.0,3068.7 L1308.2,3060.9 L1313.0,3092.7 L1317.8,3099.2 L1322.6,3085.3 L1327.8,3091.4 L1332.6,3077.4 L1337.4,3068.7 L1342.2,3116.7 L1347.4,3085.3 L1352.2,3109.2 L1359.6,3116.7 L1367.0,3155.9 L1374.5,3134.1 L1384.0,3117.5 L1391.4,3124.5 L1396.2,3109.2 L1401.0,3125.4 L1406.3,3133.2 L1411.5,3109.2 L1416.3,3124.5 L1420.6,3116.7 L1423.7,3085.3 L1423.7,3174.6 L1423.7,3174.9 Z" fill="#0000ff" stroke="#0000ff" stroke-width="0.4" stroke-linejoin="miter"/>
<path d="M271.1,3131.9 L274.6,3109.2 L281.1,3116.7 L291.1,3133.2 L299.0,3110.1 L313.4,3125.4 L318.6,3133.2 L323.4,3125.4 L328.6,3110.1 L343.4,3158.0 L350.8,3165.5 L356.9,3151.5 L362.6,3134.1 L374.8,3143.7 L384.8,3150.2 L391.8,3134.1 L399.2,3142.8 L408.8,3150.2 L421.4,3134.1 L431.0,3101.4 L436.2,3077.4 L443.2,3091.8 L450.6,3052.6 L455.4,3084.0 L460.2,3077.4 L465.4,3036.9 L470.2,3091.8 L475.0,3077.4 L480.3,3093.6 L485.0,3115.8 L490.3,3109.2 L495.1,3115.8 L499.9,3101.4 L504.7,3093.6 L509.4,3107.9 L514.2,3101.4 L519.0,3107.9 L524.3,3124.5 L529.1,3093.6 L539.1,3107.9 L543.9,3077.4 L551.3,3114.5 L558.7,3093.6 L563.5,3124.5 L568.7,3093.6 L575.7,3100.5 L583.1,3093.6 L588.3,3115.8 L592.7,3110.1 L612.3,3133.2 L622.3,3093.6 L631.9,3101.4 L636.7,3131.9 L651.5,3107.9 L656.3,3093.6 L663.5,3100.5 L670.9,3085.3 L675.7,3092.7 L685.8,3077.4 L695.3,3101.4 L707.5,3116.7 L714.9,3133.2 L722.4,3125.4 L729.3,3133.2 L734.6,3117.5 L739.8,3140.6 L744.6,3134.1 L749.4,3101.4 L759.0,3093.6 L769.0,3117.5 L773.8,3139.7 L778.6,3109.2 L783.8,3116.7 L790.8,3109.2 L798.2,3124.5 L803.4,3117.5 L808.2,3124.5 L813.0,3093.6 L818.2,3068.7 L823.0,3077.4 L827.8,3060.9 L832.6,3085.3 L837.4,3092.7 L842.2,3077.4 L850.0,3085.3 L857.0,3101.4 L862.2,3117.5 L866.6,3125.4 L871.8,3117.5 L878.8,3109.2 L886.6,3116.7 L891.4,3109.2 L903.6,3101.4 L915.8,3109.2 L920.6,3101.4 L925.4,3077.4 L930.6,3068.7 L935.4,3085.3 L940.2,3093.6 L945.0,3109.2 L965.1,3140.6 L969.8,3109.2 L974.6,3116.7 L984.7,3085.3 L989.5,3077.4 L994.2,3044.8 L1001.7,3060.0 L1009.1,3044.8 L1013.9,3051.3 L1018.6,3044.8 L1023.4,3068.7 L1028.2,3123.2 L1034.3,3109.2 L1036.3,3109.2 L1043.3,3101.4 L1048.5,3060.9 L1053.3,3077.4 L1060.7,3085.3 L1068.1,3107.9 L1072.9,3093.6 L1080.3,3085.3 L1090.4,3092.7 L1097.3,3077.4 L1102.6,3084.0 L1107.4,3077.4 L1116.9,3101.4 L1127.0,3116.7 L1131.8,3109.2 L1136.5,3124.5 L1144.0,3109.2 L1151.4,3101.4 L1156.2,3093.6 L1161.4,3115.8 L1166.2,3101.4 L1173.6,3115.8 L1181.0,3101.4 L1185.8,3123.2 L1190.6,3101.4 L1195.4,3115.8 L1202.8,3101.4 L1212.8,3116.7 L1220.2,3109.2 L1225.0,3085.3 L1244.6,3100.5 L1249.4,3077.4 L1254.6,3068.7 L1261.6,3060.9 L1269.0,3044.8 L1273.8,3068.7 L1278.6,3077.4 L1283.8,3093.6 L1288.6,3125.4 L1293.4,3093.6 L1298.2,3100.5 L1303.0,3068.7 L1308.2,3060.9 L1313.0,3092.7 L1317.8,3099.2 L1322.6,3085.3 L1327.8,3091.4 L1332.6,3077.4 L1337.4,3068.7 L1342.2,3116.7 L1347.4,3085.3 L1352.2,3109.2 L1359.6,3116.7 L1367.0,3155.9 L1374.5,3134.1 L1384.0,3117.5 L1391.4,3124.5 L1396.2,3109.2 L1401.0,3125.4 L1406.3,3133.2 L1411.5,3109.2 L1416.3,3124.5 L1420.6,3116.7 L1423.7,3085.3 L1423.7,3174.6" fill="none" stroke="#000058" stroke-width="0.7" stroke-linejoin="miter"/>
<path d="M258.8,3036.3 H270.9 V3175.4 H258.8" fill="none" stroke="#555" stroke-width="1.3"/>
<text x="252" y="3039.0" font-size="12" text-anchor="end">4</text>
<text x="252" y="3178.2" font-size="12" text-anchor="end">0</text>
<text x="74" y="3112.0" font-size="23.5">GSM5550298</text>
<path d="M285.9,3328.9 L285.9,3328.8 L308.6,3301.3 L318.6,3273.5 L323.4,3298.3 L330.8,3273.5 L338.2,3299.2 L343.4,3246.0 L350.8,3270.8 L357.8,3246.0 L372.6,3300.5 L389.6,3273.5 L399.2,3301.3 L426.2,3328.8 L455.4,3301.3 L467.6,3273.5 L477.6,3217.7 L487.7,3246.0 L499.9,3301.3 L533.8,3328.8 L568.7,3301.3 L585.7,3273.5 L597.9,3301.3 L602.7,3328.8 L607.5,3301.3 L617.1,3273.5 L627.1,3301.3 L631.9,3328.8 L636.7,3301.3 L644.1,3273.5 L657.2,3243.8 L668.8,3217.7 L675.7,3246.0 L685.8,3301.3 L707.5,3328.8 L736.7,3301.3 L749.4,3328.8 L761.6,3301.3 L800.8,3328.8 L837.4,3301.3 L847.0,3246.0 L852.2,3270.8 L859.6,3246.0 L866.6,3270.8 L874.0,3217.7 L881.8,3190.3 L888.8,3226.4 L893.6,3273.5 L901.0,3299.2 L905.8,3273.5 L915.8,3246.0 L925.4,3270.8 L930.6,3246.0 L937.6,3270.8 L945.0,3246.0 L950.2,3299.2 L957.2,3273.5 L965.1,3300.5 L969.8,3273.5 L979.9,3301.3 L996.9,3328.8 L1021.3,3301.3 L1032.2,3280.9 L1038.9,3273.5 L1043.3,3246.0 L1058.1,3301.3 L1080.3,3328.8 L1107.4,3301.3 L1116.9,3273.5 L1121.7,3298.3 L1133.9,3273.5 L1146.6,3299.2 L1151.4,3273.5 L1156.2,3297.4 L1163.6,3273.5 L1173.6,3301.3 L1188.4,3328.8 L1208.0,3301.3 L1220.2,3328.8 L1227.2,3273.5 L1237.2,3246.0 L1244.6,3298.3 L1249.4,3273.5 L1269.0,3301.3 L1298.2,3328.8 L1317.8,3301.3 L1327.8,3246.0 L1337.4,3273.5 L1354.8,3301.3 L1388.8,3328.8 L1418.5,3301.3 L1418.5,3328.8 L1418.5,3328.9 Z" fill="#0000ff" stroke="#0000ff" stroke-width="0.4" stroke-linejoin="miter"/>
<path d="M285.9,3328.8 L308.6,3301.3 L318.6,3273.5 L323.4,3298.3 L330.8,3273.5 L338.2,3299.2 L343.4,3246.0 L350.8,3270.8 L357.8,3246.0 L372.6,3300.5 L389.6,3273.5 L399.2,3301.3 L426.2,3328.8 L455.4,3301.3 L467.6,3273.5 L477.6,3217.7 L487.7,3246.0 L499.9,3301.3 L533.8,3328.8 L568.7,3301.3 L585.7,3273.5 L597.9,3301.3 L602.7,3328.8 L607.5,3301.3 L617.1,3273.5 L627.1,3301.3 L631.9,3328.8 L636.7,3301.3 L644.1,3273.5 L657.2,3243.8 L668.8,3217.7 L675.7,3246.0 L685.8,3301.3 L707.5,3328.8 L736.7,3301.3 L749.4,3328.8 L761.6,3301.3 L800.8,3328.8 L837.4,3301.3 L847.0,3246.0 L852.2,3270.8 L859.6,3246.0 L866.6,3270.8 L874.0,3217.7 L881.8,3190.3 L888.8,3226.4 L893.6,3273.5 L901.0,3299.2 L905.8,3273.5 L915.8,3246.0 L925.4,3270.8 L930.6,3246.0 L937.6,3270.8 L945.0,3246.0 L950.2,3299.2 L957.2,3273.5 L965.1,3300.5 L969.8,3273.5 L979.9,3301.3 L996.9,3328.8 L1021.3,3301.3 L1032.2,3280.9 L1038.9,3273.5 L1043.3,3246.0 L1058.1,3301.3 L1080.3,3328.8 L1107.4,3301.3 L1116.9,3273.5 L1121.7,3298.3 L1133.9,3273.5 L1146.6,3299.2 L1151.4,3273.5 L1156.2,3297.4 L1163.6,3273.5 L1173.6,3301.3 L1188.4,3328.8 L1208.0,3301.3 L1220.2,3328.8 L1227.2,3273.5 L1237.2,3246.0 L1244.6,3298.3 L1249.4,3273.5 L1269.0,3301.3 L1298.2,3328.8 L1317.8,3301.3 L1327.8,3246.0 L1337.4,3273.5 L1354.8,3301.3 L1388.8,3328.8 L1418.5,3301.3 L1418.5,3328.8" fill="none" stroke="#000058" stroke-width="0.7" stroke-linejoin="miter"/>
<path d="M258.8,3190.3 H270.9 V3329.4 H258.8" fill="none" stroke="#555" stroke-width="1.3"/>
<text x="252" y="3193.0" font-size="12" text-anchor="end">8</text>
<text x="252" y="3332.2" font-size="12" text-anchor="end">0</text>
<text x="74" y="3266.0" font-size="23.5">GSM5550297</text>
<path d="M271.1,3482.9 L271.1,3474.8 L276.3,3436.4 L283.7,3424.7 L289.0,3390.7 L293.8,3411.6 L301.2,3402.0 L308.6,3424.7 L313.4,3436.4 L333.4,3459.5 L343.4,3424.7 L353.0,3390.7 L357.8,3378.9 L362.6,3389.8 L367.4,3411.6 L377.4,3390.7 L382.2,3411.6 L387.0,3402.0 L394.4,3446.4 L404.0,3423.8 L411.4,3413.8 L426.2,3446.4 L436.2,3344.9 L443.2,3356.2 L450.6,3402.0 L455.4,3446.4 L465.4,3424.7 L475.0,3447.7 L485.0,3436.4 L490.3,3413.8 L499.9,3390.7 L509.4,3433.4 L514.2,3413.8 L519.0,3424.7 L526.4,3436.4 L533.8,3471.3 L553.9,3482.6 L575.7,3471.3 L588.3,3424.7 L597.9,3402.0 L610.1,3378.9 L619.7,3407.2 L629.3,3436.4 L639.3,3447.7 L646.7,3436.4 L653.7,3447.7 L660.9,3436.4 L670.9,3413.8 L675.7,3368.0 L681.0,3387.6 L685.8,3378.9 L690.5,3411.6 L700.1,3390.7 L714.9,3436.4 L725.0,3424.7 L734.6,3436.4 L742.0,3447.7 L749.4,3413.8 L764.2,3436.4 L769.0,3447.7 L776.4,3436.4 L783.8,3446.4 L788.6,3424.7 L798.2,3447.7 L813.0,3413.8 L818.2,3378.9 L823.0,3424.7 L830.4,3436.4 L837.4,3459.5 L847.0,3447.7 L857.0,3459.5 L862.2,3471.3 L874.0,3413.8 L881.8,3402.0 L891.4,3447.7 L898.8,3436.4 L911.0,3424.7 L920.6,3436.4 L930.6,3459.5 L942.8,3424.7 L960.3,3471.3 L969.8,3482.6 L979.9,3436.4 L994.2,3413.8 L999.0,3390.7 L1009.1,3368.0 L1013.9,3411.6 L1018.6,3436.4 L1025.6,3459.5 L1034.3,3448.6 L1036.3,3448.6 L1051.1,3424.7 L1058.1,3436.4 L1070.8,3447.7 L1082.5,3436.4 L1087.7,3458.6 L1097.3,3436.4 L1107.4,3447.7 L1116.9,3436.4 L1121.7,3390.7 L1133.9,3356.2 L1144.0,3390.7 L1154.0,3436.4 L1161.4,3447.7 L1166.2,3459.5 L1173.6,3436.4 L1181.0,3424.7 L1185.8,3402.0 L1190.6,3411.6 L1195.4,3390.7 L1200.6,3400.7 L1205.4,3390.7 L1210.2,3402.0 L1215.4,3423.8 L1220.2,3413.8 L1225.0,3424.7 L1229.8,3446.4 L1244.6,3424.7 L1251.6,3402.0 L1259.0,3390.7 L1263.8,3413.8 L1273.8,3436.4 L1281.2,3447.7 L1293.4,3413.8 L1303.0,3390.7 L1308.2,3411.6 L1313.0,3390.7 L1322.6,3411.6 L1327.8,3402.0 L1332.6,3423.8 L1337.4,3402.0 L1342.2,3423.8 L1357.0,3402.0 L1361.8,3390.7 L1377.1,3470.4 L1386.7,3447.7 L1396.2,3413.8 L1406.3,3402.0 L1411.5,3390.7 L1418.5,3378.9 L1423.7,3402.0 L1423.7,3482.6 L1423.7,3482.9 Z" fill="#0000ff" stroke="#0000ff" stroke-width="0.4" stroke-linejoin="miter"/>
<path d="M271.1,3474.8 L276.3,3436.4 L283.7,3424.7 L289.0,3390.7 L293.8,3411.6 L301.2,3402.0 L308.6,3424.7 L313.4,3436.4 L333.4,3459.5 L343.4,3424.7 L353.0,3390.7 L357.8,3378.9 L362.6,3389.8 L367.4,3411.6 L377.4,3390.7 L382.2,3411.6 L387.0,3402.0 L394.4,3446.4 L404.0,3423.8 L411.4,3413.8 L426.2,3446.4 L436.2,3344.9 L443.2,3356.2 L450.6,3402.0 L455.4,3446.4 L465.4,3424.7 L475.0,3447.7 L485.0,3436.4 L490.3,3413.8 L499.9,3390.7 L509.4,3433.4 L514.2,3413.8 L519.0,3424.7 L526.4,3436.4 L533.8,3471.3 L553.9,3482.6 L575.7,3471.3 L588.3,3424.7 L597.9,3402.0 L610.1,3378.9 L619.7,3407.2 L629.3,3436.4 L639.3,3447.7 L646.7,3436.4 L653.7,3447.7 L660.9,3436.4 L670.9,3413.8 L675.7,3368.0 L681.0,3387.6 L685.8,3378.9 L690.5,3411.6 L700.1,3390.7 L714.9,3436.4 L725.0,3424.7 L734.6,3436.4 L742.0,3447.7 L749.4,3413.8 L764.2,3436.4 L769.0,3447.7 L776.4,3436.4 L783.8,3446.4 L788.6,3424.7 L798.2,3447.7 L813.0,3413.8 L818.2,3378.9 L823.0,3424.7 L830.4,3436.4 L837.4,3459.5 L847.0,3447.7 L857.0,3459.5 L862.2,3471.3 L874.0,3413.8 L881.8,3402.0 L891.4,3447.7 L898.8,3436.4 L911.0,3424.7 L920.6,3436.4 L930.6,3459.5 L942.8,3424.7 L960.3,3471.3 L969.8,3482.6 L979.9,3436.4 L994.2,3413.8 L999.0,3390.7 L1009.1,3368.0 L1013.9,3411.6 L1018.6,3436.4 L1025.6,3459.5 L1034.3,3448.6 L1036.3,3448.6 L1051.1,3424.7 L1058.1,3436.4 L1070.8,3447.7 L1082.5,3436.4 L1087.7,3458.6 L1097.3,3436.4 L1107.4,3447.7 L1116.9,3436.4 L1121.7,3390.7 L1133.9,3356.2 L1144.0,3390.7 L1154.0,3436.4 L1161.4,3447.7 L1166.2,3459.5 L1173.6,3436.4 L1181.0,3424.7 L1185.8,3402.0 L1190.6,3411.6 L1195.4,3390.7 L1200.6,3400.7 L1205.4,3390.7 L1210.2,3402.0 L1215.4,3423.8 L1220.2,3413.8 L1225.0,3424.7 L1229.8,3446.4 L1244.6,3424.7 L1251.6,3402.0 L1259.0,3390.7 L1263.8,3413.8 L1273.8,3436.4 L1281.2,3447.7 L1293.4,3413.8 L1303.0,3390.7 L1308.2,3411.6 L1313.0,3390.7 L1322.6,3411.6 L1327.8,3402.0 L1332.6,3423.8 L1337.4,3402.0 L1342.2,3423.8 L1357.0,3402.0 L1361.8,3390.7 L1377.1,3470.4 L1386.7,3447.7 L1396.2,3413.8 L1406.3,3402.0 L1411.5,3390.7 L1418.5,3378.9 L1423.7,3402.0 L1423.7,3482.6" fill="none" stroke="#000058" stroke-width="0.7" stroke-linejoin="miter"/>
<path d="M258.8,3344.3 H270.9 V3483.4 H258.8" fill="none" stroke="#555" stroke-width="1.3"/>
<text x="252" y="3347.0" font-size="12" text-anchor="end">4</text>
<text x="252" y="3486.2" font-size="12" text-anchor="end">0</text>
<text x="74" y="3420.0" font-size="23.5">GSM5550296</text>
<path d="M271.1,3636.9 L271.1,3636.8 L281.1,3617.2 L323.4,3636.8 L365.2,3617.2 L377.4,3636.8 L387.0,3617.2 L401.4,3597.6 L411.4,3577.1 L421.4,3597.6 L433.6,3617.2 L443.2,3636.8 L452.8,3617.2 L460.2,3597.6 L465.4,3557.5 L470.2,3574.5 L475.0,3557.5 L480.3,3577.1 L485.0,3616.3 L490.3,3597.6 L497.7,3577.1 L507.3,3557.5 L516.9,3577.1 L531.7,3596.3 L543.9,3577.1 L549.1,3597.6 L561.3,3616.3 L573.5,3596.7 L578.3,3577.1 L583.1,3595.4 L588.3,3557.5 L597.9,3577.1 L610.1,3617.2 L627.1,3636.8 L644.1,3617.2 L653.7,3597.6 L663.5,3617.2 L678.3,3636.8 L687.9,3597.6 L695.3,3577.1 L702.7,3537.9 L710.2,3574.5 L714.9,3537.9 L722.4,3574.5 L729.8,3557.5 L734.6,3616.3 L739.3,3577.1 L749.4,3557.5 L764.2,3616.3 L776.4,3577.1 L796.0,3636.8 L813.0,3617.2 L823.0,3597.6 L842.2,3636.8 L847.0,3617.2 L862.2,3577.1 L866.6,3595.4 L876.6,3557.5 L881.8,3574.5 L886.6,3557.5 L898.8,3577.1 L923.2,3617.2 L935.4,3636.8 L947.6,3617.2 L955.0,3597.6 L960.3,3577.1 L969.8,3595.4 L982.0,3557.5 L989.5,3518.3 L996.9,3574.5 L1004.3,3537.9 L1011.2,3577.1 L1018.6,3597.6 L1023.4,3636.8 L1036.5,3621.5 L1041.1,3617.2 L1055.9,3597.6 L1063.3,3537.9 L1068.1,3557.5 L1075.5,3577.1 L1090.4,3636.8 L1107.4,3617.2 L1116.9,3597.6 L1127.0,3617.2 L1141.3,3636.8 L1154.0,3617.2 L1161.4,3577.1 L1166.2,3557.5 L1171.0,3574.5 L1175.8,3498.3 L1185.8,3535.3 L1190.6,3518.3 L1195.4,3557.5 L1200.6,3597.6 L1212.8,3617.2 L1222.4,3636.8 L1232.4,3597.6 L1242.0,3577.1 L1249.4,3595.4 L1254.2,3577.1 L1266.4,3557.5 L1288.6,3617.2 L1293.4,3636.8 L1308.2,3617.2 L1327.8,3557.5 L1337.4,3577.1 L1342.2,3636.8 L1354.8,3617.2 L1381.9,3636.8 L1403.6,3617.2 L1418.5,3577.1 L1418.5,3636.8 L1418.5,3636.9 Z" fill="#0000ff" stroke="#0000ff" stroke-width="0.4" stroke-linejoin="miter"/>
<path d="M271.1,3636.8 L281.1,3617.2 L323.4,3636.8 L365.2,3617.2 L377.4,3636.8 L387.0,3617.2 L401.4,3597.6 L411.4,3577.1 L421.4,3597.6 L433.6,3617.2 L443.2,3636.8 L452.8,3617.2 L460.2,3597.6 L465.4,3557.5 L470.2,3574.5 L475.0,3557.5 L480.3,3577.1 L485.0,3616.3 L490.3,3597.6 L497.7,3577.1 L507.3,3557.5 L516.9,3577.1 L531.7,3596.3 L543.9,3577.1 L549.1,3597.6 L561.3,3616.3 L573.5,3596.7 L578.3,3577.1 L583.1,3595.4 L588.3,3557.5 L597.9,3577.1 L610.1,3617.2 L627.1,3636.8 L644.1,3617.2 L653.7,3597.6 L663.5,3617.2 L678.3,3636.8 L687.9,3597.6 L695.3,3577.1 L702.7,3537.9 L710.2,3574.5 L714.9,3537.9 L722.4,3574.5 L729.8,3557.5 L734.6,3616.3 L739.3,3577.1 L749.4,3557.5 L764.2,3616.3 L776.4,3577.1 L796.0,3636.8 L813.0,3617.2 L823.0,3597.6 L842.2,3636.8 L847.0,3617.2 L862.2,3577.1 L866.6,3595.4 L876.6,3557.5 L881.8,3574.5 L886.6,3557.5 L898.8,3577.1 L923.2,3617.2 L935.4,3636.8 L947.6,3617.2 L955.0,3597.6 L960.3,3577.1 L969.8,3595.4 L982.0,3557.5 L989.5,3518.3 L996.9,3574.5 L1004.3,3537.9 L1011.2,3577.1 L1018.6,3597.6 L1023.4,3636.8 L1036.5,3621.5 L1041.1,3617.2 L1055.9,3597.6 L1063.3,3537.9 L1068.1,3557.5 L1075.5,3577.1 L1090.4,3636.8 L1107.4,3617.2 L1116.9,3597.6 L1127.0,3617.2 L1141.3,3636.8 L1154.0,3617.2 L1161.4,3577.1 L1166.2,3557.5 L1171.0,3574.5 L1175.8,3498.3 L1185.8,3535.3 L1190.6,3518.3 L1195.4,3557.5 L1200.6,3597.6 L1212.8,3617.2 L1222.4,3636.8 L1232.4,3597.6 L1242.0,3577.1 L1249.4,3595.4 L1254.2,3577.1 L1266.4,3557.5 L1288.6,3617.2 L1293.4,3636.8 L1308.2,3617.2 L1327.8,3557.5 L1337.4,3577.1 L1342.2,3636.8 L1354.8,3617.2 L1381.9,3636.8 L1403.6,3617.2 L1418.5,3577.1 L1418.5,3636.8" fill="none" stroke="#000058" stroke-width="0.7" stroke-linejoin="miter"/>
<path d="M258.8,3498.3 H270.9 V3637.4 H258.8" fill="none" stroke="#555" stroke-width="1.3"/>
<text x="252" y="3501.0" font-size="12" text-anchor="end">7</text>
<text x="252" y="3640.2" font-size="12" text-anchor="end">0</text>
<text x="74" y="3574.0" font-size="23.5">GSM5550295</text>
<path d="M400,3799.2 H1407" stroke="#3a3a3a" stroke-width="1.1" fill="none"/>
<path d="M409.2,3789.9 L419.0,3799.2 L409.2,3808.5 M446.2,3789.9 L456.0,3799.2 L446.2,3808.5 M482.8,3789.9 L492.6,3799.2 L482.8,3808.5 M519.6,3789.9 L529.4,3799.2 L519.6,3808.5 M556.4,3789.9 L566.2,3799.2 L556.4,3808.5 M593.2,3789.9 L603.0,3799.2 L593.2,3808.5 M630.9,3789.9 L640.7,3799.2 L630.9,3808.5 M657.0,3789.9 L666.8,3799.2 L657.0,3808.5 M693.7,3789.9 L703.5,3799.2 L693.7,3808.5 M730.5,3789.9 L740.3,3799.2 L730.5,3808.5 M768.2,3789.9 L778.0,3799.2 L768.2,3808.5 M805.5,3789.9 L815.3,3799.2 L805.5,3808.5 M834.9,3789.9 L844.7,3799.2 L834.9,3808.5 M871.7,3789.9 L881.5,3799.2 L871.7,3808.5 M908.4,3789.9 L918.2,3799.2 L908.4,3808.5 M946.2,3789.9 L956.0,3799.2 L946.2,3808.5 M982.9,3789.9 L992.7,3799.2 L982.9,3808.5 M1019.4,3789.9 L1029.2,3799.2 L1019.4,3808.5 M1074.1,3789.9 L1083.9,3799.2 L1074.1,3808.5 M1111.9,3789.9 L1121.7,3799.2 L1111.9,3808.5 M1148.6,3789.9 L1158.4,3799.2 L1148.6,3808.5 M1178.0,3789.9 L1187.8,3799.2 L1178.0,3808.5 M1215.3,3789.9 L1225.1,3799.2 L1215.3,3808.5 M1252.1,3789.9 L1261.9,3799.2 L1252.1,3808.5 M1289.8,3789.9 L1299.6,3799.2 L1289.8,3808.5 M1326.6,3789.9 L1336.4,3799.2 L1326.6,3808.5 M1363.3,3789.9 L1373.1,3799.2 L1363.3,3808.5 M1392.7,3789.9 L1402.5,3799.2 L1392.7,3808.5" stroke="#222" stroke-width="1" fill="none"/>
<rect x="341.2" y="3775.7" width="58.8" height="46.6" fill="#000"/>
<rect x="649.6" y="3775.7" width="6.9" height="46.6" fill="#000"/>
<rect x="814.3" y="3775.7" width="11.7" height="46.6" fill="#000"/>
<rect x="1037.5" y="3775.7" width="10.5" height="46.6" fill="#000"/>
<rect x="1047.6" y="3752.4" width="18.7" height="93.3" fill="#000"/>
<rect x="1165.8" y="3752.4" width="6.4" height="93.3" fill="#000"/>
<rect x="1378" y="3752.4" width="8.9" height="93.3" fill="#000"/>
<rect x="1407" y="3752.4" width="16.6" height="93.3" fill="#000"/>
<rect x="271.2" y="3901.4" width="1152.3" height="56.2" fill="#c8c8c8"/>
<path d="M271.2,3901.4 H1423.5 M271.2,3957.6 H1423.5" stroke="#333" stroke-width="1.2" fill="none"/>
<path d="M423.7,3957.6 V3986 M619.5,3957.6 V3986 M815.4,3957.6 V3986 M1011.4,3957.6 V3986 M1207.5,3957.6 V3986 M1403.6,3957.6 V3986" stroke="#333" stroke-width="1.2" fill="none"/>
<path d="M815.4,3986 V4030" stroke="#333" stroke-width="1" fill="none"/>
<text x="816" y="4046.5" font-size="23.5" text-anchor="middle">35.46Mb</text>
<text x="76" y="3946" font-size="47.6">chr20</text>
</svg></body></html>
